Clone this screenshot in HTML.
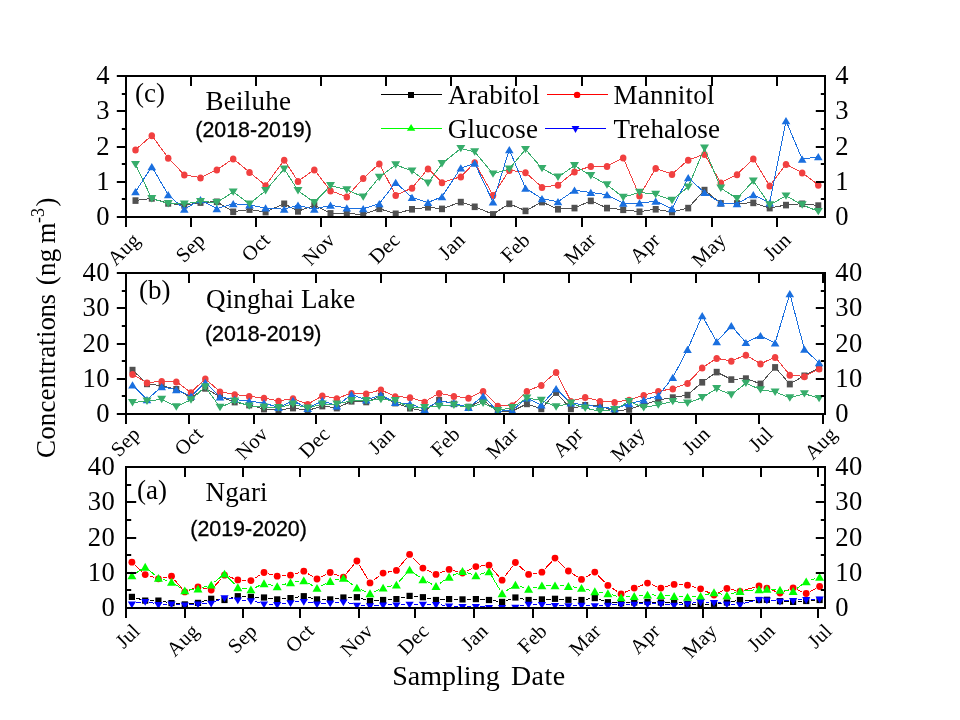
<!DOCTYPE html>
<html lang="en">
<head>
<meta charset="utf-8">
<title>Concentrations of sugar compounds by sampling date</title>
<style>
html,body{margin:0;padding:0;background:#fff;}
body{width:960px;height:720px;overflow:hidden;}
svg{display:block;}
text{fill:#000;}
</style>
</head>
<body>
<svg width="960" height="720" viewBox="0 0 960 720" role="img" aria-label="Concentrations of arabitol, mannitol, glucose and trehalose by sampling date at Beiluhe, Qinghai Lake and Ngari">
<rect width="960" height="720" fill="#fff"/>
<defs>
<clipPath id="clip-c"><rect x="125" y="75" width="701" height="143"/></clipPath>
<clipPath id="clip-b"><rect x="125" y="272" width="701" height="143"/></clipPath>
<clipPath id="clip-a"><rect x="125" y="466" width="701" height="143"/></clipPath>
</defs>
<g id="panel-c-data" clip-path="url(#clip-c)">
<polyline points="135.50,200.50 151.80,198.30 168.20,203.30 184.30,205.30 200.50,202.50 216.80,201.70 233.20,211.70 249.50,209.50 265.60,212.00 284.20,203.70 298.00,211.30 314.30,205.30 330.50,213.30 346.80,213.70 363.20,214.30 379.30,208.70 395.70,213.70 412.00,209.20 428.00,207.20 442.00,208.80 460.80,202.00 474.70,206.70 493.00,214.30 509.30,203.70 525.50,210.80 542.00,202.00 558.00,209.20 574.50,208.00 590.80,200.80 607.00,208.00 623.20,209.70 639.50,211.70 655.70,209.20 672.00,212.00 688.20,208.00 704.50,190.00 720.80,203.30 737.00,203.30 753.30,202.80 769.70,208.00 786.00,205.00 802.20,203.70 818.30,205.50" fill="none" stroke="#515151" stroke-width="1.0" stroke-linejoin="round" shape-rendering="crispEdges"/>
<rect x="132.50" y="197.30" width="6.0" height="6.6" fill="#515151"/>
<rect x="148.80" y="195.10" width="6.0" height="6.6" fill="#515151"/>
<rect x="165.20" y="200.10" width="6.0" height="6.6" fill="#515151"/>
<rect x="181.30" y="202.10" width="6.0" height="6.6" fill="#515151"/>
<rect x="197.50" y="199.30" width="6.0" height="6.6" fill="#515151"/>
<rect x="213.80" y="198.50" width="6.0" height="6.6" fill="#515151"/>
<rect x="230.20" y="208.50" width="6.0" height="6.6" fill="#515151"/>
<rect x="246.50" y="206.30" width="6.0" height="6.6" fill="#515151"/>
<rect x="262.60" y="208.80" width="6.0" height="6.6" fill="#515151"/>
<rect x="281.20" y="200.50" width="6.0" height="6.6" fill="#515151"/>
<rect x="295.00" y="208.10" width="6.0" height="6.6" fill="#515151"/>
<rect x="311.30" y="202.10" width="6.0" height="6.6" fill="#515151"/>
<rect x="327.50" y="210.10" width="6.0" height="6.6" fill="#515151"/>
<rect x="343.80" y="210.50" width="6.0" height="6.6" fill="#515151"/>
<rect x="360.20" y="211.10" width="6.0" height="6.6" fill="#515151"/>
<rect x="376.30" y="205.50" width="6.0" height="6.6" fill="#515151"/>
<rect x="392.70" y="210.50" width="6.0" height="6.6" fill="#515151"/>
<rect x="409.00" y="206.00" width="6.0" height="6.6" fill="#515151"/>
<rect x="425.00" y="204.00" width="6.0" height="6.6" fill="#515151"/>
<rect x="439.00" y="205.60" width="6.0" height="6.6" fill="#515151"/>
<rect x="457.80" y="198.80" width="6.0" height="6.6" fill="#515151"/>
<rect x="471.70" y="203.50" width="6.0" height="6.6" fill="#515151"/>
<rect x="490.00" y="211.10" width="6.0" height="6.6" fill="#515151"/>
<rect x="506.30" y="200.50" width="6.0" height="6.6" fill="#515151"/>
<rect x="522.50" y="207.60" width="6.0" height="6.6" fill="#515151"/>
<rect x="539.00" y="198.80" width="6.0" height="6.6" fill="#515151"/>
<rect x="555.00" y="206.00" width="6.0" height="6.6" fill="#515151"/>
<rect x="571.50" y="204.80" width="6.0" height="6.6" fill="#515151"/>
<rect x="587.80" y="197.60" width="6.0" height="6.6" fill="#515151"/>
<rect x="604.00" y="204.80" width="6.0" height="6.6" fill="#515151"/>
<rect x="620.20" y="206.50" width="6.0" height="6.6" fill="#515151"/>
<rect x="636.50" y="208.50" width="6.0" height="6.6" fill="#515151"/>
<rect x="652.70" y="206.00" width="6.0" height="6.6" fill="#515151"/>
<rect x="669.00" y="208.80" width="6.0" height="6.6" fill="#515151"/>
<rect x="685.20" y="204.80" width="6.0" height="6.6" fill="#515151"/>
<rect x="701.50" y="186.80" width="6.0" height="6.6" fill="#515151"/>
<rect x="717.80" y="200.10" width="6.0" height="6.6" fill="#515151"/>
<rect x="734.00" y="200.10" width="6.0" height="6.6" fill="#515151"/>
<rect x="750.30" y="199.60" width="6.0" height="6.6" fill="#515151"/>
<rect x="766.70" y="204.80" width="6.0" height="6.6" fill="#515151"/>
<rect x="783.00" y="201.80" width="6.0" height="6.6" fill="#515151"/>
<rect x="799.20" y="200.50" width="6.0" height="6.6" fill="#515151"/>
<rect x="815.30" y="202.30" width="6.0" height="6.6" fill="#515151"/>
<polyline points="135.50,149.70 151.80,135.50 168.20,158.00 184.30,174.80 200.50,177.70 216.80,169.80 233.20,158.70 249.50,172.20 265.60,185.50 284.20,160.00 298.00,181.30 314.30,169.70 330.50,190.80 346.80,196.70 363.20,178.30 379.30,163.80 395.70,195.30 412.00,188.00 428.00,168.70 442.00,182.50 460.80,176.70 474.70,162.50 493.00,195.30 509.30,170.30 525.50,172.50 542.00,187.20 558.00,185.00 574.50,171.70 590.80,166.20 607.00,166.20 623.20,157.80 639.50,195.80 655.70,168.30 672.00,174.20 688.20,160.00 704.50,154.20 720.80,182.80 737.00,174.50 753.30,158.80 769.70,185.80 786.00,164.20 802.20,172.80 818.30,185.00" fill="none" stroke="#F14040" stroke-width="1.0" stroke-linejoin="round" shape-rendering="crispEdges"/>
<ellipse cx="135.50" cy="150.00" rx="3.25" ry="3.5" fill="#F14040"/>
<ellipse cx="151.80" cy="135.80" rx="3.25" ry="3.5" fill="#F14040"/>
<ellipse cx="168.20" cy="158.30" rx="3.25" ry="3.5" fill="#F14040"/>
<ellipse cx="184.30" cy="175.10" rx="3.25" ry="3.5" fill="#F14040"/>
<ellipse cx="200.50" cy="178.00" rx="3.25" ry="3.5" fill="#F14040"/>
<ellipse cx="216.80" cy="170.10" rx="3.25" ry="3.5" fill="#F14040"/>
<ellipse cx="233.20" cy="159.00" rx="3.25" ry="3.5" fill="#F14040"/>
<ellipse cx="249.50" cy="172.50" rx="3.25" ry="3.5" fill="#F14040"/>
<ellipse cx="265.60" cy="185.80" rx="3.25" ry="3.5" fill="#F14040"/>
<ellipse cx="284.20" cy="160.30" rx="3.25" ry="3.5" fill="#F14040"/>
<ellipse cx="298.00" cy="181.60" rx="3.25" ry="3.5" fill="#F14040"/>
<ellipse cx="314.30" cy="170.00" rx="3.25" ry="3.5" fill="#F14040"/>
<ellipse cx="330.50" cy="191.10" rx="3.25" ry="3.5" fill="#F14040"/>
<ellipse cx="346.80" cy="197.00" rx="3.25" ry="3.5" fill="#F14040"/>
<ellipse cx="363.20" cy="178.60" rx="3.25" ry="3.5" fill="#F14040"/>
<ellipse cx="379.30" cy="164.10" rx="3.25" ry="3.5" fill="#F14040"/>
<ellipse cx="395.70" cy="195.60" rx="3.25" ry="3.5" fill="#F14040"/>
<ellipse cx="412.00" cy="188.30" rx="3.25" ry="3.5" fill="#F14040"/>
<ellipse cx="428.00" cy="169.00" rx="3.25" ry="3.5" fill="#F14040"/>
<ellipse cx="442.00" cy="182.80" rx="3.25" ry="3.5" fill="#F14040"/>
<ellipse cx="460.80" cy="177.00" rx="3.25" ry="3.5" fill="#F14040"/>
<ellipse cx="474.70" cy="162.80" rx="3.25" ry="3.5" fill="#F14040"/>
<ellipse cx="493.00" cy="195.60" rx="3.25" ry="3.5" fill="#F14040"/>
<ellipse cx="509.30" cy="170.60" rx="3.25" ry="3.5" fill="#F14040"/>
<ellipse cx="525.50" cy="172.80" rx="3.25" ry="3.5" fill="#F14040"/>
<ellipse cx="542.00" cy="187.50" rx="3.25" ry="3.5" fill="#F14040"/>
<ellipse cx="558.00" cy="185.30" rx="3.25" ry="3.5" fill="#F14040"/>
<ellipse cx="574.50" cy="172.00" rx="3.25" ry="3.5" fill="#F14040"/>
<ellipse cx="590.80" cy="166.50" rx="3.25" ry="3.5" fill="#F14040"/>
<ellipse cx="607.00" cy="166.50" rx="3.25" ry="3.5" fill="#F14040"/>
<ellipse cx="623.20" cy="158.10" rx="3.25" ry="3.5" fill="#F14040"/>
<ellipse cx="639.50" cy="196.10" rx="3.25" ry="3.5" fill="#F14040"/>
<ellipse cx="655.70" cy="168.60" rx="3.25" ry="3.5" fill="#F14040"/>
<ellipse cx="672.00" cy="174.50" rx="3.25" ry="3.5" fill="#F14040"/>
<ellipse cx="688.20" cy="160.30" rx="3.25" ry="3.5" fill="#F14040"/>
<ellipse cx="704.50" cy="154.50" rx="3.25" ry="3.5" fill="#F14040"/>
<ellipse cx="720.80" cy="183.10" rx="3.25" ry="3.5" fill="#F14040"/>
<ellipse cx="737.00" cy="174.80" rx="3.25" ry="3.5" fill="#F14040"/>
<ellipse cx="753.30" cy="159.10" rx="3.25" ry="3.5" fill="#F14040"/>
<ellipse cx="769.70" cy="186.10" rx="3.25" ry="3.5" fill="#F14040"/>
<ellipse cx="786.00" cy="164.50" rx="3.25" ry="3.5" fill="#F14040"/>
<ellipse cx="802.20" cy="173.10" rx="3.25" ry="3.5" fill="#F14040"/>
<ellipse cx="818.30" cy="185.30" rx="3.25" ry="3.5" fill="#F14040"/>
<polyline points="135.50,191.70 151.80,166.70 168.20,194.70 184.30,209.20 200.50,199.70 216.80,208.70 233.20,203.70 249.50,205.00 265.60,208.00 284.20,209.20 298.00,205.30 314.30,209.20 330.50,205.30 346.80,208.00 363.20,208.70 379.30,203.70 395.70,182.50 412.00,197.50 428.00,202.50 442.00,196.70 460.80,168.00 474.70,163.30 493.00,202.00 509.30,149.70 525.50,188.30 542.00,198.70 558.00,201.70 574.50,190.30 590.80,192.50 607.00,194.70 623.20,203.30 639.50,203.00 655.70,201.30 672.00,208.70 688.20,177.80 704.50,192.50 720.80,203.00 737.00,203.70 753.30,194.70 769.70,203.00 786.00,120.80 802.20,159.20 818.30,156.70" fill="none" stroke="#1A6FDF" stroke-width="1.0" stroke-linejoin="round" shape-rendering="crispEdges"/>
<polygon points="135.50,188.00 139.80,195.20 131.20,195.20" fill="#1A6FDF"/>
<polygon points="151.80,163.00 156.10,170.20 147.50,170.20" fill="#1A6FDF"/>
<polygon points="168.20,191.00 172.50,198.20 163.90,198.20" fill="#1A6FDF"/>
<polygon points="184.30,205.50 188.60,212.70 180.00,212.70" fill="#1A6FDF"/>
<polygon points="200.50,196.00 204.80,203.20 196.20,203.20" fill="#1A6FDF"/>
<polygon points="216.80,205.00 221.10,212.20 212.50,212.20" fill="#1A6FDF"/>
<polygon points="233.20,200.00 237.50,207.20 228.90,207.20" fill="#1A6FDF"/>
<polygon points="249.50,201.30 253.80,208.50 245.20,208.50" fill="#1A6FDF"/>
<polygon points="265.60,204.30 269.90,211.50 261.30,211.50" fill="#1A6FDF"/>
<polygon points="284.20,205.50 288.50,212.70 279.90,212.70" fill="#1A6FDF"/>
<polygon points="298.00,201.60 302.30,208.80 293.70,208.80" fill="#1A6FDF"/>
<polygon points="314.30,205.50 318.60,212.70 310.00,212.70" fill="#1A6FDF"/>
<polygon points="330.50,201.60 334.80,208.80 326.20,208.80" fill="#1A6FDF"/>
<polygon points="346.80,204.30 351.10,211.50 342.50,211.50" fill="#1A6FDF"/>
<polygon points="363.20,205.00 367.50,212.20 358.90,212.20" fill="#1A6FDF"/>
<polygon points="379.30,200.00 383.60,207.20 375.00,207.20" fill="#1A6FDF"/>
<polygon points="395.70,178.80 400.00,186.00 391.40,186.00" fill="#1A6FDF"/>
<polygon points="412.00,193.80 416.30,201.00 407.70,201.00" fill="#1A6FDF"/>
<polygon points="428.00,198.80 432.30,206.00 423.70,206.00" fill="#1A6FDF"/>
<polygon points="442.00,193.00 446.30,200.20 437.70,200.20" fill="#1A6FDF"/>
<polygon points="460.80,164.30 465.10,171.50 456.50,171.50" fill="#1A6FDF"/>
<polygon points="474.70,159.60 479.00,166.80 470.40,166.80" fill="#1A6FDF"/>
<polygon points="493.00,198.30 497.30,205.50 488.70,205.50" fill="#1A6FDF"/>
<polygon points="509.30,146.00 513.60,153.20 505.00,153.20" fill="#1A6FDF"/>
<polygon points="525.50,184.60 529.80,191.80 521.20,191.80" fill="#1A6FDF"/>
<polygon points="542.00,195.00 546.30,202.20 537.70,202.20" fill="#1A6FDF"/>
<polygon points="558.00,198.00 562.30,205.20 553.70,205.20" fill="#1A6FDF"/>
<polygon points="574.50,186.60 578.80,193.80 570.20,193.80" fill="#1A6FDF"/>
<polygon points="590.80,188.80 595.10,196.00 586.50,196.00" fill="#1A6FDF"/>
<polygon points="607.00,191.00 611.30,198.20 602.70,198.20" fill="#1A6FDF"/>
<polygon points="623.20,199.60 627.50,206.80 618.90,206.80" fill="#1A6FDF"/>
<polygon points="639.50,199.30 643.80,206.50 635.20,206.50" fill="#1A6FDF"/>
<polygon points="655.70,197.60 660.00,204.80 651.40,204.80" fill="#1A6FDF"/>
<polygon points="672.00,205.00 676.30,212.20 667.70,212.20" fill="#1A6FDF"/>
<polygon points="688.20,174.10 692.50,181.30 683.90,181.30" fill="#1A6FDF"/>
<polygon points="704.50,188.80 708.80,196.00 700.20,196.00" fill="#1A6FDF"/>
<polygon points="720.80,199.30 725.10,206.50 716.50,206.50" fill="#1A6FDF"/>
<polygon points="737.00,200.00 741.30,207.20 732.70,207.20" fill="#1A6FDF"/>
<polygon points="753.30,191.00 757.60,198.20 749.00,198.20" fill="#1A6FDF"/>
<polygon points="769.70,199.30 774.00,206.50 765.40,206.50" fill="#1A6FDF"/>
<polygon points="786.00,117.10 790.30,124.30 781.70,124.30" fill="#1A6FDF"/>
<polygon points="802.20,155.50 806.50,162.70 797.90,162.70" fill="#1A6FDF"/>
<polygon points="818.30,153.00 822.60,160.20 814.00,160.20" fill="#1A6FDF"/>
<polyline points="135.50,164.40 151.80,198.60 168.20,203.60 184.30,203.90 200.50,201.40 216.80,202.60 233.20,191.90 249.50,203.90 265.60,190.60 284.20,168.90 298.00,190.60 314.30,202.60 330.50,185.60 346.80,189.80 363.20,196.90 379.30,177.30 395.70,164.80 412.00,170.90 428.00,183.10 442.00,163.60 460.80,148.40 474.70,151.80 493.00,173.90 509.30,168.90 525.50,149.40 542.00,168.40 558.00,177.10 574.50,165.60 590.80,175.60 607.00,184.80 623.20,197.30 639.50,192.30 655.70,194.30 672.00,200.30 688.20,186.90 704.50,148.10 720.80,188.10 737.00,198.60 753.30,180.90 769.70,204.80 786.00,195.90 802.20,204.80 818.30,211.40" fill="none" stroke="#37AD6B" stroke-width="1.0" stroke-linejoin="round" shape-rendering="crispEdges"/>
<polygon points="135.50,168.30 140.00,160.90 131.00,160.90" fill="#37AD6B"/>
<polygon points="151.80,202.50 156.30,195.10 147.30,195.10" fill="#37AD6B"/>
<polygon points="168.20,207.50 172.70,200.10 163.70,200.10" fill="#37AD6B"/>
<polygon points="184.30,207.80 188.80,200.40 179.80,200.40" fill="#37AD6B"/>
<polygon points="200.50,205.30 205.00,197.90 196.00,197.90" fill="#37AD6B"/>
<polygon points="216.80,206.50 221.30,199.10 212.30,199.10" fill="#37AD6B"/>
<polygon points="233.20,195.80 237.70,188.40 228.70,188.40" fill="#37AD6B"/>
<polygon points="249.50,207.80 254.00,200.40 245.00,200.40" fill="#37AD6B"/>
<polygon points="265.60,194.50 270.10,187.10 261.10,187.10" fill="#37AD6B"/>
<polygon points="284.20,172.80 288.70,165.40 279.70,165.40" fill="#37AD6B"/>
<polygon points="298.00,194.50 302.50,187.10 293.50,187.10" fill="#37AD6B"/>
<polygon points="314.30,206.50 318.80,199.10 309.80,199.10" fill="#37AD6B"/>
<polygon points="330.50,189.50 335.00,182.10 326.00,182.10" fill="#37AD6B"/>
<polygon points="346.80,193.70 351.30,186.30 342.30,186.30" fill="#37AD6B"/>
<polygon points="363.20,200.80 367.70,193.40 358.70,193.40" fill="#37AD6B"/>
<polygon points="379.30,181.20 383.80,173.80 374.80,173.80" fill="#37AD6B"/>
<polygon points="395.70,168.70 400.20,161.30 391.20,161.30" fill="#37AD6B"/>
<polygon points="412.00,174.80 416.50,167.40 407.50,167.40" fill="#37AD6B"/>
<polygon points="428.00,187.00 432.50,179.60 423.50,179.60" fill="#37AD6B"/>
<polygon points="442.00,167.50 446.50,160.10 437.50,160.10" fill="#37AD6B"/>
<polygon points="460.80,152.30 465.30,144.90 456.30,144.90" fill="#37AD6B"/>
<polygon points="474.70,155.70 479.20,148.30 470.20,148.30" fill="#37AD6B"/>
<polygon points="493.00,177.80 497.50,170.40 488.50,170.40" fill="#37AD6B"/>
<polygon points="509.30,172.80 513.80,165.40 504.80,165.40" fill="#37AD6B"/>
<polygon points="525.50,153.30 530.00,145.90 521.00,145.90" fill="#37AD6B"/>
<polygon points="542.00,172.30 546.50,164.90 537.50,164.90" fill="#37AD6B"/>
<polygon points="558.00,181.00 562.50,173.60 553.50,173.60" fill="#37AD6B"/>
<polygon points="574.50,169.50 579.00,162.10 570.00,162.10" fill="#37AD6B"/>
<polygon points="590.80,179.50 595.30,172.10 586.30,172.10" fill="#37AD6B"/>
<polygon points="607.00,188.70 611.50,181.30 602.50,181.30" fill="#37AD6B"/>
<polygon points="623.20,201.20 627.70,193.80 618.70,193.80" fill="#37AD6B"/>
<polygon points="639.50,196.20 644.00,188.80 635.00,188.80" fill="#37AD6B"/>
<polygon points="655.70,198.20 660.20,190.80 651.20,190.80" fill="#37AD6B"/>
<polygon points="672.00,204.20 676.50,196.80 667.50,196.80" fill="#37AD6B"/>
<polygon points="688.20,190.80 692.70,183.40 683.70,183.40" fill="#37AD6B"/>
<polygon points="704.50,152.00 709.00,144.60 700.00,144.60" fill="#37AD6B"/>
<polygon points="720.80,192.00 725.30,184.60 716.30,184.60" fill="#37AD6B"/>
<polygon points="737.00,202.50 741.50,195.10 732.50,195.10" fill="#37AD6B"/>
<polygon points="753.30,184.80 757.80,177.40 748.80,177.40" fill="#37AD6B"/>
<polygon points="769.70,208.70 774.20,201.30 765.20,201.30" fill="#37AD6B"/>
<polygon points="786.00,199.80 790.50,192.40 781.50,192.40" fill="#37AD6B"/>
<polygon points="802.20,208.70 806.70,201.30 797.70,201.30" fill="#37AD6B"/>
<polygon points="818.30,215.30 822.80,207.90 813.80,207.90" fill="#37AD6B"/>
</g>
<g id="panel-b-data" clip-path="url(#clip-b)">
<polyline points="132.50,370.00 147.00,383.80 161.70,385.80 176.30,389.20 191.00,397.50 205.30,388.30 220.00,396.70 234.70,402.00 249.20,405.00 264.00,409.00 278.50,410.00 293.00,408.00 307.70,410.50 322.30,406.00 336.80,408.00 351.50,401.20 366.20,401.90 380.90,396.20 395.20,403.00 410.00,408.10 424.60,411.20 439.10,400.20 453.90,403.80 468.50,406.90 483.10,400.00 497.80,411.90 512.20,411.20 526.90,403.80 541.30,408.80 556.10,392.50 570.90,408.80 585.20,405.20 600.00,406.00 614.60,411.20 629.10,409.40 643.70,404.60 658.30,400.00 672.80,397.50 687.50,395.00 702.20,382.20 716.70,372.00 731.30,379.50 745.90,378.50 760.50,383.80 775.10,367.30 789.80,384.00 804.40,375.70 819.10,368.00" fill="none" stroke="#515151" stroke-width="1.0" stroke-linejoin="round" shape-rendering="crispEdges"/>
<rect x="129.50" y="366.80" width="6.0" height="6.6" fill="#515151"/>
<rect x="144.00" y="380.60" width="6.0" height="6.6" fill="#515151"/>
<rect x="158.70" y="382.60" width="6.0" height="6.6" fill="#515151"/>
<rect x="173.30" y="386.00" width="6.0" height="6.6" fill="#515151"/>
<rect x="188.00" y="394.30" width="6.0" height="6.6" fill="#515151"/>
<rect x="202.30" y="385.10" width="6.0" height="6.6" fill="#515151"/>
<rect x="217.00" y="393.50" width="6.0" height="6.6" fill="#515151"/>
<rect x="231.70" y="398.80" width="6.0" height="6.6" fill="#515151"/>
<rect x="246.20" y="401.80" width="6.0" height="6.6" fill="#515151"/>
<rect x="261.00" y="405.80" width="6.0" height="6.6" fill="#515151"/>
<rect x="275.50" y="406.80" width="6.0" height="6.6" fill="#515151"/>
<rect x="290.00" y="404.80" width="6.0" height="6.6" fill="#515151"/>
<rect x="304.70" y="407.30" width="6.0" height="6.6" fill="#515151"/>
<rect x="319.30" y="402.80" width="6.0" height="6.6" fill="#515151"/>
<rect x="333.80" y="404.80" width="6.0" height="6.6" fill="#515151"/>
<rect x="348.50" y="398.00" width="6.0" height="6.6" fill="#515151"/>
<rect x="363.20" y="398.70" width="6.0" height="6.6" fill="#515151"/>
<rect x="377.90" y="393.00" width="6.0" height="6.6" fill="#515151"/>
<rect x="392.20" y="399.80" width="6.0" height="6.6" fill="#515151"/>
<rect x="407.00" y="404.90" width="6.0" height="6.6" fill="#515151"/>
<rect x="421.60" y="408.00" width="6.0" height="6.6" fill="#515151"/>
<rect x="436.10" y="397.00" width="6.0" height="6.6" fill="#515151"/>
<rect x="450.90" y="400.60" width="6.0" height="6.6" fill="#515151"/>
<rect x="465.50" y="403.70" width="6.0" height="6.6" fill="#515151"/>
<rect x="480.10" y="396.80" width="6.0" height="6.6" fill="#515151"/>
<rect x="494.80" y="408.70" width="6.0" height="6.6" fill="#515151"/>
<rect x="509.20" y="408.00" width="6.0" height="6.6" fill="#515151"/>
<rect x="523.90" y="400.60" width="6.0" height="6.6" fill="#515151"/>
<rect x="538.30" y="405.60" width="6.0" height="6.6" fill="#515151"/>
<rect x="553.10" y="389.30" width="6.0" height="6.6" fill="#515151"/>
<rect x="567.90" y="405.60" width="6.0" height="6.6" fill="#515151"/>
<rect x="582.20" y="402.00" width="6.0" height="6.6" fill="#515151"/>
<rect x="597.00" y="402.80" width="6.0" height="6.6" fill="#515151"/>
<rect x="611.60" y="408.00" width="6.0" height="6.6" fill="#515151"/>
<rect x="626.10" y="406.20" width="6.0" height="6.6" fill="#515151"/>
<rect x="640.70" y="401.40" width="6.0" height="6.6" fill="#515151"/>
<rect x="655.30" y="396.80" width="6.0" height="6.6" fill="#515151"/>
<rect x="669.80" y="394.30" width="6.0" height="6.6" fill="#515151"/>
<rect x="684.50" y="391.80" width="6.0" height="6.6" fill="#515151"/>
<rect x="699.20" y="379.00" width="6.0" height="6.6" fill="#515151"/>
<rect x="713.70" y="368.80" width="6.0" height="6.6" fill="#515151"/>
<rect x="728.30" y="376.30" width="6.0" height="6.6" fill="#515151"/>
<rect x="742.90" y="375.30" width="6.0" height="6.6" fill="#515151"/>
<rect x="757.50" y="380.60" width="6.0" height="6.6" fill="#515151"/>
<rect x="772.10" y="364.10" width="6.0" height="6.6" fill="#515151"/>
<rect x="786.80" y="380.80" width="6.0" height="6.6" fill="#515151"/>
<rect x="801.40" y="372.50" width="6.0" height="6.6" fill="#515151"/>
<rect x="816.10" y="364.80" width="6.0" height="6.6" fill="#515151"/>
<polyline points="132.50,374.20 147.00,382.80 161.70,381.20 176.30,381.70 191.00,392.50 205.30,378.70 220.00,391.70 234.70,394.50 249.20,396.30 264.00,398.00 278.50,401.00 293.00,398.50 307.70,404.30 322.30,395.80 336.80,398.50 351.50,393.10 366.20,393.80 380.90,389.80 395.20,396.50 410.00,397.50 424.60,401.90 439.10,393.10 453.90,396.30 468.50,397.90 483.10,391.20 497.80,406.00 512.20,405.40 526.90,391.20 541.30,385.10 556.10,372.20 570.90,401.20 585.20,397.20 600.00,401.20 614.60,402.10 629.10,400.00 643.70,395.20 658.30,391.30 672.80,388.70 687.50,383.30 702.20,367.80 716.70,358.30 731.30,361.00 745.90,355.00 760.50,363.80 775.10,357.10 789.80,375.00 804.40,376.50 819.10,368.80" fill="none" stroke="#F14040" stroke-width="1.0" stroke-linejoin="round" shape-rendering="crispEdges"/>
<ellipse cx="132.50" cy="374.50" rx="3.25" ry="3.5" fill="#F14040"/>
<ellipse cx="147.00" cy="383.10" rx="3.25" ry="3.5" fill="#F14040"/>
<ellipse cx="161.70" cy="381.50" rx="3.25" ry="3.5" fill="#F14040"/>
<ellipse cx="176.30" cy="382.00" rx="3.25" ry="3.5" fill="#F14040"/>
<ellipse cx="191.00" cy="392.80" rx="3.25" ry="3.5" fill="#F14040"/>
<ellipse cx="205.30" cy="379.00" rx="3.25" ry="3.5" fill="#F14040"/>
<ellipse cx="220.00" cy="392.00" rx="3.25" ry="3.5" fill="#F14040"/>
<ellipse cx="234.70" cy="394.80" rx="3.25" ry="3.5" fill="#F14040"/>
<ellipse cx="249.20" cy="396.60" rx="3.25" ry="3.5" fill="#F14040"/>
<ellipse cx="264.00" cy="398.30" rx="3.25" ry="3.5" fill="#F14040"/>
<ellipse cx="278.50" cy="401.30" rx="3.25" ry="3.5" fill="#F14040"/>
<ellipse cx="293.00" cy="398.80" rx="3.25" ry="3.5" fill="#F14040"/>
<ellipse cx="307.70" cy="404.60" rx="3.25" ry="3.5" fill="#F14040"/>
<ellipse cx="322.30" cy="396.10" rx="3.25" ry="3.5" fill="#F14040"/>
<ellipse cx="336.80" cy="398.80" rx="3.25" ry="3.5" fill="#F14040"/>
<ellipse cx="351.50" cy="393.40" rx="3.25" ry="3.5" fill="#F14040"/>
<ellipse cx="366.20" cy="394.10" rx="3.25" ry="3.5" fill="#F14040"/>
<ellipse cx="380.90" cy="390.10" rx="3.25" ry="3.5" fill="#F14040"/>
<ellipse cx="395.20" cy="396.80" rx="3.25" ry="3.5" fill="#F14040"/>
<ellipse cx="410.00" cy="397.80" rx="3.25" ry="3.5" fill="#F14040"/>
<ellipse cx="424.60" cy="402.20" rx="3.25" ry="3.5" fill="#F14040"/>
<ellipse cx="439.10" cy="393.40" rx="3.25" ry="3.5" fill="#F14040"/>
<ellipse cx="453.90" cy="396.60" rx="3.25" ry="3.5" fill="#F14040"/>
<ellipse cx="468.50" cy="398.20" rx="3.25" ry="3.5" fill="#F14040"/>
<ellipse cx="483.10" cy="391.50" rx="3.25" ry="3.5" fill="#F14040"/>
<ellipse cx="497.80" cy="406.30" rx="3.25" ry="3.5" fill="#F14040"/>
<ellipse cx="512.20" cy="405.70" rx="3.25" ry="3.5" fill="#F14040"/>
<ellipse cx="526.90" cy="391.50" rx="3.25" ry="3.5" fill="#F14040"/>
<ellipse cx="541.30" cy="385.40" rx="3.25" ry="3.5" fill="#F14040"/>
<ellipse cx="556.10" cy="372.50" rx="3.25" ry="3.5" fill="#F14040"/>
<ellipse cx="570.90" cy="401.50" rx="3.25" ry="3.5" fill="#F14040"/>
<ellipse cx="585.20" cy="397.50" rx="3.25" ry="3.5" fill="#F14040"/>
<ellipse cx="600.00" cy="401.50" rx="3.25" ry="3.5" fill="#F14040"/>
<ellipse cx="614.60" cy="402.40" rx="3.25" ry="3.5" fill="#F14040"/>
<ellipse cx="629.10" cy="400.30" rx="3.25" ry="3.5" fill="#F14040"/>
<ellipse cx="643.70" cy="395.50" rx="3.25" ry="3.5" fill="#F14040"/>
<ellipse cx="658.30" cy="391.60" rx="3.25" ry="3.5" fill="#F14040"/>
<ellipse cx="672.80" cy="389.00" rx="3.25" ry="3.5" fill="#F14040"/>
<ellipse cx="687.50" cy="383.60" rx="3.25" ry="3.5" fill="#F14040"/>
<ellipse cx="702.20" cy="368.10" rx="3.25" ry="3.5" fill="#F14040"/>
<ellipse cx="716.70" cy="358.60" rx="3.25" ry="3.5" fill="#F14040"/>
<ellipse cx="731.30" cy="361.30" rx="3.25" ry="3.5" fill="#F14040"/>
<ellipse cx="745.90" cy="355.30" rx="3.25" ry="3.5" fill="#F14040"/>
<ellipse cx="760.50" cy="364.10" rx="3.25" ry="3.5" fill="#F14040"/>
<ellipse cx="775.10" cy="357.40" rx="3.25" ry="3.5" fill="#F14040"/>
<ellipse cx="789.80" cy="375.30" rx="3.25" ry="3.5" fill="#F14040"/>
<ellipse cx="804.40" cy="376.80" rx="3.25" ry="3.5" fill="#F14040"/>
<ellipse cx="819.10" cy="369.10" rx="3.25" ry="3.5" fill="#F14040"/>
<polyline points="132.50,385.00 147.00,399.70 161.70,386.70 176.30,389.70 191.00,396.20 205.30,382.50 220.00,397.00 234.70,399.50 249.20,401.20 264.00,403.00 278.50,407.50 293.00,400.50 307.70,408.50 322.30,400.50 336.80,406.00 351.50,394.40 366.20,400.00 380.90,395.00 395.20,402.50 410.00,403.80 424.60,409.40 439.10,401.20 453.90,403.00 468.50,407.50 483.10,396.20 497.80,411.20 512.20,410.60 526.90,398.10 541.30,405.00 556.10,388.80 570.90,403.10 585.20,405.00 600.00,406.90 614.60,408.80 629.10,403.80 643.70,400.00 658.30,395.70 672.80,377.50 687.50,349.50 702.20,315.80 716.70,341.70 731.30,325.80 745.90,342.60 760.50,335.60 775.10,343.00 789.80,293.70 804.40,349.30 819.10,362.80" fill="none" stroke="#1A6FDF" stroke-width="1.0" stroke-linejoin="round" shape-rendering="crispEdges"/>
<polygon points="132.50,381.30 136.80,388.50 128.20,388.50" fill="#1A6FDF"/>
<polygon points="147.00,396.00 151.30,403.20 142.70,403.20" fill="#1A6FDF"/>
<polygon points="161.70,383.00 166.00,390.20 157.40,390.20" fill="#1A6FDF"/>
<polygon points="176.30,386.00 180.60,393.20 172.00,393.20" fill="#1A6FDF"/>
<polygon points="191.00,392.50 195.30,399.70 186.70,399.70" fill="#1A6FDF"/>
<polygon points="205.30,378.80 209.60,386.00 201.00,386.00" fill="#1A6FDF"/>
<polygon points="220.00,393.30 224.30,400.50 215.70,400.50" fill="#1A6FDF"/>
<polygon points="234.70,395.80 239.00,403.00 230.40,403.00" fill="#1A6FDF"/>
<polygon points="249.20,397.50 253.50,404.70 244.90,404.70" fill="#1A6FDF"/>
<polygon points="264.00,399.30 268.30,406.50 259.70,406.50" fill="#1A6FDF"/>
<polygon points="278.50,403.80 282.80,411.00 274.20,411.00" fill="#1A6FDF"/>
<polygon points="293.00,396.80 297.30,404.00 288.70,404.00" fill="#1A6FDF"/>
<polygon points="307.70,404.80 312.00,412.00 303.40,412.00" fill="#1A6FDF"/>
<polygon points="322.30,396.80 326.60,404.00 318.00,404.00" fill="#1A6FDF"/>
<polygon points="336.80,402.30 341.10,409.50 332.50,409.50" fill="#1A6FDF"/>
<polygon points="351.50,390.70 355.80,397.90 347.20,397.90" fill="#1A6FDF"/>
<polygon points="366.20,396.30 370.50,403.50 361.90,403.50" fill="#1A6FDF"/>
<polygon points="380.90,391.30 385.20,398.50 376.60,398.50" fill="#1A6FDF"/>
<polygon points="395.20,398.80 399.50,406.00 390.90,406.00" fill="#1A6FDF"/>
<polygon points="410.00,400.10 414.30,407.30 405.70,407.30" fill="#1A6FDF"/>
<polygon points="424.60,405.70 428.90,412.90 420.30,412.90" fill="#1A6FDF"/>
<polygon points="439.10,397.50 443.40,404.70 434.80,404.70" fill="#1A6FDF"/>
<polygon points="453.90,399.30 458.20,406.50 449.60,406.50" fill="#1A6FDF"/>
<polygon points="468.50,403.80 472.80,411.00 464.20,411.00" fill="#1A6FDF"/>
<polygon points="483.10,392.50 487.40,399.70 478.80,399.70" fill="#1A6FDF"/>
<polygon points="497.80,407.50 502.10,414.70 493.50,414.70" fill="#1A6FDF"/>
<polygon points="512.20,406.90 516.50,414.10 507.90,414.10" fill="#1A6FDF"/>
<polygon points="526.90,394.40 531.20,401.60 522.60,401.60" fill="#1A6FDF"/>
<polygon points="541.30,401.30 545.60,408.50 537.00,408.50" fill="#1A6FDF"/>
<polygon points="556.10,385.10 560.40,392.30 551.80,392.30" fill="#1A6FDF"/>
<polygon points="570.90,399.40 575.20,406.60 566.60,406.60" fill="#1A6FDF"/>
<polygon points="585.20,401.30 589.50,408.50 580.90,408.50" fill="#1A6FDF"/>
<polygon points="600.00,403.20 604.30,410.40 595.70,410.40" fill="#1A6FDF"/>
<polygon points="614.60,405.10 618.90,412.30 610.30,412.30" fill="#1A6FDF"/>
<polygon points="629.10,400.10 633.40,407.30 624.80,407.30" fill="#1A6FDF"/>
<polygon points="643.70,396.30 648.00,403.50 639.40,403.50" fill="#1A6FDF"/>
<polygon points="658.30,392.00 662.60,399.20 654.00,399.20" fill="#1A6FDF"/>
<polygon points="672.80,373.80 677.10,381.00 668.50,381.00" fill="#1A6FDF"/>
<polygon points="687.50,345.80 691.80,353.00 683.20,353.00" fill="#1A6FDF"/>
<polygon points="702.20,312.10 706.50,319.30 697.90,319.30" fill="#1A6FDF"/>
<polygon points="716.70,338.00 721.00,345.20 712.40,345.20" fill="#1A6FDF"/>
<polygon points="731.30,322.10 735.60,329.30 727.00,329.30" fill="#1A6FDF"/>
<polygon points="745.90,338.90 750.20,346.10 741.60,346.10" fill="#1A6FDF"/>
<polygon points="760.50,331.90 764.80,339.10 756.20,339.10" fill="#1A6FDF"/>
<polygon points="775.10,339.30 779.40,346.50 770.80,346.50" fill="#1A6FDF"/>
<polygon points="789.80,290.00 794.10,297.20 785.50,297.20" fill="#1A6FDF"/>
<polygon points="804.40,345.60 808.70,352.80 800.10,352.80" fill="#1A6FDF"/>
<polygon points="819.10,359.10 823.40,366.30 814.80,366.30" fill="#1A6FDF"/>
<polyline points="132.50,402.60 147.00,401.10 161.70,399.30 176.30,406.80 191.00,399.80 205.30,386.80 220.00,407.30 234.70,401.10 249.20,405.90 264.00,407.10 278.50,407.60 293.00,404.10 307.70,408.10 322.30,404.10 336.80,404.10 351.50,400.60 366.20,400.60 380.90,399.40 395.20,400.60 410.00,407.50 424.60,407.50 439.10,406.20 453.90,405.00 468.50,407.50 483.10,403.10 497.80,410.60 512.20,407.50 526.90,398.10 541.30,400.30 556.10,406.80 570.90,403.10 585.20,408.10 600.00,411.20 614.60,409.40 629.10,401.50 643.70,407.60 658.30,404.90 672.80,401.40 687.50,403.10 702.20,397.60 716.70,388.60 731.30,394.80 745.90,383.20 760.50,389.70 775.10,392.00 789.80,397.80 804.40,393.70 819.10,398.40" fill="none" stroke="#37AD6B" stroke-width="1.0" stroke-linejoin="round" shape-rendering="crispEdges"/>
<polygon points="132.50,406.50 137.00,399.10 128.00,399.10" fill="#37AD6B"/>
<polygon points="147.00,405.00 151.50,397.60 142.50,397.60" fill="#37AD6B"/>
<polygon points="161.70,403.20 166.20,395.80 157.20,395.80" fill="#37AD6B"/>
<polygon points="176.30,410.70 180.80,403.30 171.80,403.30" fill="#37AD6B"/>
<polygon points="191.00,403.70 195.50,396.30 186.50,396.30" fill="#37AD6B"/>
<polygon points="205.30,390.70 209.80,383.30 200.80,383.30" fill="#37AD6B"/>
<polygon points="220.00,411.20 224.50,403.80 215.50,403.80" fill="#37AD6B"/>
<polygon points="234.70,405.00 239.20,397.60 230.20,397.60" fill="#37AD6B"/>
<polygon points="249.20,409.80 253.70,402.40 244.70,402.40" fill="#37AD6B"/>
<polygon points="264.00,411.00 268.50,403.60 259.50,403.60" fill="#37AD6B"/>
<polygon points="278.50,411.50 283.00,404.10 274.00,404.10" fill="#37AD6B"/>
<polygon points="293.00,408.00 297.50,400.60 288.50,400.60" fill="#37AD6B"/>
<polygon points="307.70,412.00 312.20,404.60 303.20,404.60" fill="#37AD6B"/>
<polygon points="322.30,408.00 326.80,400.60 317.80,400.60" fill="#37AD6B"/>
<polygon points="336.80,408.00 341.30,400.60 332.30,400.60" fill="#37AD6B"/>
<polygon points="351.50,404.50 356.00,397.10 347.00,397.10" fill="#37AD6B"/>
<polygon points="366.20,404.50 370.70,397.10 361.70,397.10" fill="#37AD6B"/>
<polygon points="380.90,403.30 385.40,395.90 376.40,395.90" fill="#37AD6B"/>
<polygon points="395.20,404.50 399.70,397.10 390.70,397.10" fill="#37AD6B"/>
<polygon points="410.00,411.40 414.50,404.00 405.50,404.00" fill="#37AD6B"/>
<polygon points="424.60,411.40 429.10,404.00 420.10,404.00" fill="#37AD6B"/>
<polygon points="439.10,410.10 443.60,402.70 434.60,402.70" fill="#37AD6B"/>
<polygon points="453.90,408.90 458.40,401.50 449.40,401.50" fill="#37AD6B"/>
<polygon points="468.50,411.40 473.00,404.00 464.00,404.00" fill="#37AD6B"/>
<polygon points="483.10,407.00 487.60,399.60 478.60,399.60" fill="#37AD6B"/>
<polygon points="497.80,414.50 502.30,407.10 493.30,407.10" fill="#37AD6B"/>
<polygon points="512.20,411.40 516.70,404.00 507.70,404.00" fill="#37AD6B"/>
<polygon points="526.90,402.00 531.40,394.60 522.40,394.60" fill="#37AD6B"/>
<polygon points="541.30,404.20 545.80,396.80 536.80,396.80" fill="#37AD6B"/>
<polygon points="556.10,410.70 560.60,403.30 551.60,403.30" fill="#37AD6B"/>
<polygon points="570.90,407.00 575.40,399.60 566.40,399.60" fill="#37AD6B"/>
<polygon points="585.20,412.00 589.70,404.60 580.70,404.60" fill="#37AD6B"/>
<polygon points="600.00,415.10 604.50,407.70 595.50,407.70" fill="#37AD6B"/>
<polygon points="614.60,413.30 619.10,405.90 610.10,405.90" fill="#37AD6B"/>
<polygon points="629.10,405.40 633.60,398.00 624.60,398.00" fill="#37AD6B"/>
<polygon points="643.70,411.50 648.20,404.10 639.20,404.10" fill="#37AD6B"/>
<polygon points="658.30,408.80 662.80,401.40 653.80,401.40" fill="#37AD6B"/>
<polygon points="672.80,405.30 677.30,397.90 668.30,397.90" fill="#37AD6B"/>
<polygon points="687.50,407.00 692.00,399.60 683.00,399.60" fill="#37AD6B"/>
<polygon points="702.20,401.50 706.70,394.10 697.70,394.10" fill="#37AD6B"/>
<polygon points="716.70,392.50 721.20,385.10 712.20,385.10" fill="#37AD6B"/>
<polygon points="731.30,398.70 735.80,391.30 726.80,391.30" fill="#37AD6B"/>
<polygon points="745.90,387.10 750.40,379.70 741.40,379.70" fill="#37AD6B"/>
<polygon points="760.50,393.60 765.00,386.20 756.00,386.20" fill="#37AD6B"/>
<polygon points="775.10,395.90 779.60,388.50 770.60,388.50" fill="#37AD6B"/>
<polygon points="789.80,401.70 794.30,394.30 785.30,394.30" fill="#37AD6B"/>
<polygon points="804.40,397.60 808.90,390.20 799.90,390.20" fill="#37AD6B"/>
<polygon points="819.10,402.30 823.60,394.90 814.60,394.90" fill="#37AD6B"/>
</g>
<g id="panel-a-data" clip-path="url(#clip-a)">
<line x1="136.24" y1="598.11" x2="140.86" y2="599.39" stroke="#000000" stroke-width="1.0" shape-rendering="crispEdges"/>
<line x1="149.70" y1="600.60" x2="153.90" y2="600.60" stroke="#000000" stroke-width="1.0" shape-rendering="crispEdges"/>
<line x1="162.82" y1="601.44" x2="167.08" y2="602.26" stroke="#000000" stroke-width="1.0" shape-rendering="crispEdges"/>
<line x1="175.98" y1="603.54" x2="180.32" y2="603.96" stroke="#000000" stroke-width="1.0" shape-rendering="crispEdges"/>
<line x1="189.27" y1="603.89" x2="193.53" y2="603.41" stroke="#000000" stroke-width="1.0" shape-rendering="crispEdges"/>
<line x1="202.30" y1="601.57" x2="206.90" y2="600.13" stroke="#000000" stroke-width="1.0" shape-rendering="crispEdges"/>
<line x1="215.68" y1="599.20" x2="220.02" y2="599.60" stroke="#000000" stroke-width="1.0" shape-rendering="crispEdges"/>
<line x1="228.83" y1="598.76" x2="233.47" y2="597.44" stroke="#000000" stroke-width="1.0" shape-rendering="crispEdges"/>
<line x1="242.29" y1="596.44" x2="246.41" y2="596.66" stroke="#000000" stroke-width="1.0" shape-rendering="crispEdges"/>
<line x1="255.40" y1="597.11" x2="259.50" y2="597.29" stroke="#000000" stroke-width="1.0" shape-rendering="crispEdges"/>
<line x1="268.45" y1="598.14" x2="272.75" y2="598.76" stroke="#000000" stroke-width="1.0" shape-rendering="crispEdges"/>
<line x1="281.68" y1="598.96" x2="286.02" y2="598.54" stroke="#000000" stroke-width="1.0" shape-rendering="crispEdges"/>
<line x1="294.95" y1="597.46" x2="299.35" y2="596.84" stroke="#000000" stroke-width="1.0" shape-rendering="crispEdges"/>
<line x1="308.17" y1="597.26" x2="312.63" y2="598.34" stroke="#000000" stroke-width="1.0" shape-rendering="crispEdges"/>
<line x1="321.50" y1="599.40" x2="325.70" y2="599.40" stroke="#000000" stroke-width="1.0" shape-rendering="crispEdges"/>
<line x1="334.65" y1="598.76" x2="338.95" y2="598.14" stroke="#000000" stroke-width="1.0" shape-rendering="crispEdges"/>
<line x1="347.90" y1="597.40" x2="352.40" y2="597.30" stroke="#000000" stroke-width="1.0" shape-rendering="crispEdges"/>
<line x1="361.22" y1="598.45" x2="365.68" y2="599.75" stroke="#000000" stroke-width="1.0" shape-rendering="crispEdges"/>
<line x1="374.49" y1="600.66" x2="378.61" y2="600.34" stroke="#000000" stroke-width="1.0" shape-rendering="crispEdges"/>
<line x1="387.59" y1="599.70" x2="391.91" y2="599.40" stroke="#000000" stroke-width="1.0" shape-rendering="crispEdges"/>
<line x1="400.77" y1="598.04" x2="405.23" y2="596.96" stroke="#000000" stroke-width="1.0" shape-rendering="crispEdges"/>
<line x1="414.08" y1="596.34" x2="418.42" y2="596.76" stroke="#000000" stroke-width="1.0" shape-rendering="crispEdges"/>
<line x1="427.30" y1="598.14" x2="431.60" y2="599.06" stroke="#000000" stroke-width="1.0" shape-rendering="crispEdges"/>
<line x1="440.49" y1="599.69" x2="444.61" y2="599.41" stroke="#000000" stroke-width="1.0" shape-rendering="crispEdges"/>
<line x1="453.60" y1="599.20" x2="458.00" y2="599.30" stroke="#000000" stroke-width="1.0" shape-rendering="crispEdges"/>
<line x1="467.00" y1="599.30" x2="471.40" y2="599.20" stroke="#000000" stroke-width="1.0" shape-rendering="crispEdges"/>
<line x1="480.39" y1="599.41" x2="484.51" y2="599.69" stroke="#000000" stroke-width="1.0" shape-rendering="crispEdges"/>
<line x1="493.45" y1="600.65" x2="497.65" y2="601.25" stroke="#000000" stroke-width="1.0" shape-rendering="crispEdges"/>
<line x1="506.37" y1="600.49" x2="511.13" y2="598.91" stroke="#000000" stroke-width="1.0" shape-rendering="crispEdges"/>
<line x1="519.82" y1="598.34" x2="524.18" y2="599.16" stroke="#000000" stroke-width="1.0" shape-rendering="crispEdges"/>
<line x1="533.10" y1="599.80" x2="537.40" y2="599.60" stroke="#000000" stroke-width="1.0" shape-rendering="crispEdges"/>
<line x1="546.40" y1="599.19" x2="550.50" y2="599.01" stroke="#000000" stroke-width="1.0" shape-rendering="crispEdges"/>
<line x1="559.49" y1="599.13" x2="563.91" y2="599.47" stroke="#000000" stroke-width="1.0" shape-rendering="crispEdges"/>
<line x1="572.90" y1="599.87" x2="577.00" y2="599.93" stroke="#000000" stroke-width="1.0" shape-rendering="crispEdges"/>
<line x1="585.95" y1="599.36" x2="590.35" y2="598.74" stroke="#000000" stroke-width="1.0" shape-rendering="crispEdges"/>
<line x1="599.09" y1="599.44" x2="603.61" y2="600.86" stroke="#000000" stroke-width="1.0" shape-rendering="crispEdges"/>
<line x1="612.39" y1="602.51" x2="616.61" y2="602.79" stroke="#000000" stroke-width="1.0" shape-rendering="crispEdges"/>
<line x1="625.60" y1="602.89" x2="629.70" y2="602.71" stroke="#000000" stroke-width="1.0" shape-rendering="crispEdges"/>
<line x1="638.70" y1="602.30" x2="643.00" y2="602.10" stroke="#000000" stroke-width="1.0" shape-rendering="crispEdges"/>
<line x1="652.00" y1="602.10" x2="656.40" y2="602.30" stroke="#000000" stroke-width="1.0" shape-rendering="crispEdges"/>
<line x1="665.40" y1="602.30" x2="669.60" y2="602.10" stroke="#000000" stroke-width="1.0" shape-rendering="crispEdges"/>
<line x1="678.56" y1="602.53" x2="683.04" y2="603.17" stroke="#000000" stroke-width="1.0" shape-rendering="crispEdges"/>
<line x1="692.00" y1="604.01" x2="696.10" y2="604.19" stroke="#000000" stroke-width="1.0" shape-rendering="crispEdges"/>
<line x1="705.10" y1="604.20" x2="709.50" y2="604.00" stroke="#000000" stroke-width="1.0" shape-rendering="crispEdges"/>
<line x1="718.48" y1="603.35" x2="722.42" y2="602.95" stroke="#000000" stroke-width="1.0" shape-rendering="crispEdges"/>
<line x1="731.32" y1="601.66" x2="735.58" y2="600.84" stroke="#000000" stroke-width="1.0" shape-rendering="crispEdges"/>
<line x1="744.50" y1="600.00" x2="754.50" y2="600.00" stroke="#000000" stroke-width="1.0" shape-rendering="crispEdges"/>
<line x1="771.37" y1="600.28" x2="775.53" y2="600.72" stroke="#000000" stroke-width="1.0" shape-rendering="crispEdges"/>
<line x1="784.49" y1="601.44" x2="788.61" y2="601.66" stroke="#000000" stroke-width="1.0" shape-rendering="crispEdges"/>
<line x1="797.59" y1="601.59" x2="801.71" y2="601.31" stroke="#000000" stroke-width="1.0" shape-rendering="crispEdges"/>
<line x1="810.69" y1="600.67" x2="815.11" y2="600.33" stroke="#000000" stroke-width="1.0" shape-rendering="crispEdges"/>
<rect x="128.80" y="593.80" width="6.2" height="6.2" fill="#000000"/>
<rect x="142.10" y="597.50" width="6.2" height="6.2" fill="#000000"/>
<rect x="155.30" y="597.50" width="6.2" height="6.2" fill="#000000"/>
<rect x="168.40" y="600.00" width="6.2" height="6.2" fill="#000000"/>
<rect x="181.70" y="601.30" width="6.2" height="6.2" fill="#000000"/>
<rect x="194.90" y="599.80" width="6.2" height="6.2" fill="#000000"/>
<rect x="208.10" y="595.70" width="6.2" height="6.2" fill="#000000"/>
<rect x="221.40" y="596.90" width="6.2" height="6.2" fill="#000000"/>
<rect x="234.70" y="593.10" width="6.2" height="6.2" fill="#000000"/>
<rect x="247.80" y="593.80" width="6.2" height="6.2" fill="#000000"/>
<rect x="260.90" y="594.40" width="6.2" height="6.2" fill="#000000"/>
<rect x="274.10" y="596.30" width="6.2" height="6.2" fill="#000000"/>
<rect x="287.40" y="595.00" width="6.2" height="6.2" fill="#000000"/>
<rect x="300.70" y="593.10" width="6.2" height="6.2" fill="#000000"/>
<rect x="313.90" y="596.30" width="6.2" height="6.2" fill="#000000"/>
<rect x="327.10" y="596.30" width="6.2" height="6.2" fill="#000000"/>
<rect x="340.30" y="594.40" width="6.2" height="6.2" fill="#000000"/>
<rect x="353.80" y="594.10" width="6.2" height="6.2" fill="#000000"/>
<rect x="366.90" y="597.90" width="6.2" height="6.2" fill="#000000"/>
<rect x="380.00" y="596.90" width="6.2" height="6.2" fill="#000000"/>
<rect x="393.30" y="596.00" width="6.2" height="6.2" fill="#000000"/>
<rect x="406.50" y="592.80" width="6.2" height="6.2" fill="#000000"/>
<rect x="419.80" y="594.10" width="6.2" height="6.2" fill="#000000"/>
<rect x="432.90" y="596.90" width="6.2" height="6.2" fill="#000000"/>
<rect x="446.00" y="596.00" width="6.2" height="6.2" fill="#000000"/>
<rect x="459.40" y="596.30" width="6.2" height="6.2" fill="#000000"/>
<rect x="472.80" y="596.00" width="6.2" height="6.2" fill="#000000"/>
<rect x="485.90" y="596.90" width="6.2" height="6.2" fill="#000000"/>
<rect x="499.00" y="598.80" width="6.2" height="6.2" fill="#000000"/>
<rect x="512.30" y="594.40" width="6.2" height="6.2" fill="#000000"/>
<rect x="525.50" y="596.90" width="6.2" height="6.2" fill="#000000"/>
<rect x="538.80" y="596.30" width="6.2" height="6.2" fill="#000000"/>
<rect x="551.90" y="595.70" width="6.2" height="6.2" fill="#000000"/>
<rect x="565.30" y="596.70" width="6.2" height="6.2" fill="#000000"/>
<rect x="578.40" y="596.90" width="6.2" height="6.2" fill="#000000"/>
<rect x="591.70" y="595.00" width="6.2" height="6.2" fill="#000000"/>
<rect x="604.80" y="599.10" width="6.2" height="6.2" fill="#000000"/>
<rect x="618.00" y="600.00" width="6.2" height="6.2" fill="#000000"/>
<rect x="631.10" y="599.40" width="6.2" height="6.2" fill="#000000"/>
<rect x="644.40" y="598.80" width="6.2" height="6.2" fill="#000000"/>
<rect x="657.80" y="599.40" width="6.2" height="6.2" fill="#000000"/>
<rect x="671.00" y="598.80" width="6.2" height="6.2" fill="#000000"/>
<rect x="684.40" y="600.70" width="6.2" height="6.2" fill="#000000"/>
<rect x="697.50" y="601.30" width="6.2" height="6.2" fill="#000000"/>
<rect x="710.90" y="600.70" width="6.2" height="6.2" fill="#000000"/>
<rect x="723.80" y="599.40" width="6.2" height="6.2" fill="#000000"/>
<rect x="736.90" y="596.90" width="6.2" height="6.2" fill="#000000"/>
<rect x="755.90" y="596.90" width="6.2" height="6.2" fill="#000000"/>
<rect x="763.80" y="596.70" width="6.2" height="6.2" fill="#000000"/>
<rect x="776.90" y="598.10" width="6.2" height="6.2" fill="#000000"/>
<rect x="790.00" y="598.80" width="6.2" height="6.2" fill="#000000"/>
<rect x="803.10" y="597.90" width="6.2" height="6.2" fill="#000000"/>
<rect x="816.50" y="596.90" width="6.2" height="6.2" fill="#000000"/>
<line x1="135.19" y1="565.27" x2="141.91" y2="571.53" stroke="#FF0000" stroke-width="1.0" shape-rendering="crispEdges"/>
<line x1="149.49" y1="575.96" x2="154.11" y2="577.44" stroke="#FF0000" stroke-width="1.0" shape-rendering="crispEdges"/>
<line x1="162.81" y1="577.92" x2="167.09" y2="577.08" stroke="#FF0000" stroke-width="1.0" shape-rendering="crispEdges"/>
<line x1="174.41" y1="579.63" x2="181.89" y2="588.47" stroke="#FF0000" stroke-width="1.0" shape-rendering="crispEdges"/>
<line x1="189.01" y1="590.31" x2="193.79" y2="588.49" stroke="#FF0000" stroke-width="1.0" shape-rendering="crispEdges"/>
<line x1="202.38" y1="587.93" x2="206.82" y2="588.97" stroke="#FF0000" stroke-width="1.0" shape-rendering="crispEdges"/>
<line x1="214.21" y1="586.65" x2="221.49" y2="578.55" stroke="#FF0000" stroke-width="1.0" shape-rendering="crispEdges"/>
<line x1="228.74" y1="576.70" x2="233.56" y2="578.40" stroke="#FF0000" stroke-width="1.0" shape-rendering="crispEdges"/>
<line x1="242.29" y1="580.14" x2="246.41" y2="580.36" stroke="#FF0000" stroke-width="1.0" shape-rendering="crispEdges"/>
<line x1="254.73" y1="578.23" x2="260.17" y2="574.87" stroke="#FF0000" stroke-width="1.0" shape-rendering="crispEdges"/>
<line x1="268.33" y1="573.71" x2="272.87" y2="574.99" stroke="#FF0000" stroke-width="1.0" shape-rendering="crispEdges"/>
<line x1="281.69" y1="575.86" x2="286.01" y2="575.54" stroke="#FF0000" stroke-width="1.0" shape-rendering="crispEdges"/>
<line x1="294.81" y1="573.90" x2="299.49" y2="572.50" stroke="#FF0000" stroke-width="1.0" shape-rendering="crispEdges"/>
<line x1="307.67" y1="573.49" x2="313.13" y2="576.71" stroke="#FF0000" stroke-width="1.0" shape-rendering="crispEdges"/>
<line x1="321.04" y1="577.01" x2="326.16" y2="574.49" stroke="#FF0000" stroke-width="1.0" shape-rendering="crispEdges"/>
<line x1="334.44" y1="574.01" x2="339.16" y2="575.69" stroke="#FF0000" stroke-width="1.0" shape-rendering="crispEdges"/>
<line x1="346.28" y1="573.74" x2="354.02" y2="564.46" stroke="#FF0000" stroke-width="1.0" shape-rendering="crispEdges"/>
<line x1="359.21" y1="564.86" x2="367.69" y2="579.04" stroke="#FF0000" stroke-width="1.0" shape-rendering="crispEdges"/>
<line x1="373.60" y1="580.20" x2="379.50" y2="575.80" stroke="#FF0000" stroke-width="1.0" shape-rendering="crispEdges"/>
<line x1="387.51" y1="572.20" x2="391.99" y2="571.30" stroke="#FF0000" stroke-width="1.0" shape-rendering="crispEdges"/>
<line x1="399.26" y1="566.93" x2="406.74" y2="557.87" stroke="#FF0000" stroke-width="1.0" shape-rendering="crispEdges"/>
<line x1="412.73" y1="557.63" x2="419.77" y2="564.87" stroke="#FF0000" stroke-width="1.0" shape-rendering="crispEdges"/>
<line x1="426.96" y1="570.05" x2="431.94" y2="572.45" stroke="#FF0000" stroke-width="1.0" shape-rendering="crispEdges"/>
<line x1="440.20" y1="572.80" x2="444.90" y2="571.00" stroke="#FF0000" stroke-width="1.0" shape-rendering="crispEdges"/>
<line x1="453.44" y1="570.60" x2="458.16" y2="571.90" stroke="#FF0000" stroke-width="1.0" shape-rendering="crispEdges"/>
<line x1="466.55" y1="571.14" x2="471.85" y2="568.56" stroke="#FF0000" stroke-width="1.0" shape-rendering="crispEdges"/>
<line x1="480.37" y1="566.12" x2="484.53" y2="565.68" stroke="#FF0000" stroke-width="1.0" shape-rendering="crispEdges"/>
<line x1="491.96" y1="568.59" x2="499.14" y2="576.81" stroke="#FF0000" stroke-width="1.0" shape-rendering="crispEdges"/>
<line x1="504.80" y1="576.60" x2="512.70" y2="566.10" stroke="#FF0000" stroke-width="1.0" shape-rendering="crispEdges"/>
<line x1="518.74" y1="565.51" x2="525.26" y2="571.39" stroke="#FF0000" stroke-width="1.0" shape-rendering="crispEdges"/>
<line x1="533.04" y1="573.67" x2="537.46" y2="572.93" stroke="#FF0000" stroke-width="1.0" shape-rendering="crispEdges"/>
<line x1="544.96" y1="568.90" x2="551.94" y2="561.40" stroke="#FF0000" stroke-width="1.0" shape-rendering="crispEdges"/>
<line x1="558.24" y1="561.22" x2="565.16" y2="567.88" stroke="#FF0000" stroke-width="1.0" shape-rendering="crispEdges"/>
<line x1="572.19" y1="573.43" x2="577.71" y2="576.97" stroke="#FF0000" stroke-width="1.0" shape-rendering="crispEdges"/>
<line x1="585.44" y1="577.23" x2="590.86" y2="574.27" stroke="#FF0000" stroke-width="1.0" shape-rendering="crispEdges"/>
<line x1="597.96" y1="575.31" x2="604.74" y2="582.19" stroke="#FF0000" stroke-width="1.0" shape-rendering="crispEdges"/>
<line x1="611.67" y1="587.86" x2="617.33" y2="591.54" stroke="#FF0000" stroke-width="1.0" shape-rendering="crispEdges"/>
<line x1="625.20" y1="592.15" x2="630.10" y2="589.95" stroke="#FF0000" stroke-width="1.0" shape-rendering="crispEdges"/>
<line x1="638.41" y1="586.52" x2="643.29" y2="584.68" stroke="#FF0000" stroke-width="1.0" shape-rendering="crispEdges"/>
<line x1="651.72" y1="584.67" x2="656.68" y2="586.53" stroke="#FF0000" stroke-width="1.0" shape-rendering="crispEdges"/>
<line x1="665.23" y1="586.89" x2="669.77" y2="585.61" stroke="#FF0000" stroke-width="1.0" shape-rendering="crispEdges"/>
<line x1="678.59" y1="584.67" x2="683.01" y2="584.93" stroke="#FF0000" stroke-width="1.0" shape-rendering="crispEdges"/>
<line x1="691.84" y1="586.39" x2="696.26" y2="587.61" stroke="#FF0000" stroke-width="1.0" shape-rendering="crispEdges"/>
<line x1="704.68" y1="590.69" x2="709.92" y2="593.11" stroke="#FF0000" stroke-width="1.0" shape-rendering="crispEdges"/>
<line x1="718.02" y1="592.98" x2="722.88" y2="590.52" stroke="#FF0000" stroke-width="1.0" shape-rendering="crispEdges"/>
<line x1="731.30" y1="589.44" x2="735.60" y2="590.36" stroke="#FF0000" stroke-width="1.0" shape-rendering="crispEdges"/>
<line x1="744.33" y1="590.09" x2="754.67" y2="587.21" stroke="#FF0000" stroke-width="1.0" shape-rendering="crispEdges"/>
<line x1="771.10" y1="589.70" x2="775.80" y2="591.50" stroke="#FF0000" stroke-width="1.0" shape-rendering="crispEdges"/>
<line x1="784.18" y1="591.44" x2="788.92" y2="589.56" stroke="#FF0000" stroke-width="1.0" shape-rendering="crispEdges"/>
<line x1="797.24" y1="589.67" x2="802.06" y2="591.73" stroke="#FF0000" stroke-width="1.0" shape-rendering="crispEdges"/>
<line x1="810.19" y1="591.42" x2="815.61" y2="588.58" stroke="#FF0000" stroke-width="1.0" shape-rendering="crispEdges"/>
<ellipse cx="131.90" cy="562.20" rx="3.4" ry="3.4" fill="#FF0000"/>
<ellipse cx="145.20" cy="574.60" rx="3.4" ry="3.4" fill="#FF0000"/>
<ellipse cx="158.40" cy="578.80" rx="3.4" ry="3.4" fill="#FF0000"/>
<ellipse cx="171.50" cy="576.20" rx="3.4" ry="3.4" fill="#FF0000"/>
<ellipse cx="184.80" cy="591.90" rx="3.4" ry="3.4" fill="#FF0000"/>
<ellipse cx="198.00" cy="586.90" rx="3.4" ry="3.4" fill="#FF0000"/>
<ellipse cx="211.20" cy="590.00" rx="3.4" ry="3.4" fill="#FF0000"/>
<ellipse cx="224.50" cy="575.20" rx="3.4" ry="3.4" fill="#FF0000"/>
<ellipse cx="237.80" cy="579.90" rx="3.4" ry="3.4" fill="#FF0000"/>
<ellipse cx="250.90" cy="580.60" rx="3.4" ry="3.4" fill="#FF0000"/>
<ellipse cx="264.00" cy="572.50" rx="3.4" ry="3.4" fill="#FF0000"/>
<ellipse cx="277.20" cy="576.20" rx="3.4" ry="3.4" fill="#FF0000"/>
<ellipse cx="290.50" cy="575.20" rx="3.4" ry="3.4" fill="#FF0000"/>
<ellipse cx="303.80" cy="571.20" rx="3.4" ry="3.4" fill="#FF0000"/>
<ellipse cx="317.00" cy="579.00" rx="3.4" ry="3.4" fill="#FF0000"/>
<ellipse cx="330.20" cy="572.50" rx="3.4" ry="3.4" fill="#FF0000"/>
<ellipse cx="343.40" cy="577.20" rx="3.4" ry="3.4" fill="#FF0000"/>
<ellipse cx="356.90" cy="561.00" rx="3.4" ry="3.4" fill="#FF0000"/>
<ellipse cx="370.00" cy="582.90" rx="3.4" ry="3.4" fill="#FF0000"/>
<ellipse cx="383.10" cy="573.10" rx="3.4" ry="3.4" fill="#FF0000"/>
<ellipse cx="396.40" cy="570.40" rx="3.4" ry="3.4" fill="#FF0000"/>
<ellipse cx="409.60" cy="554.40" rx="3.4" ry="3.4" fill="#FF0000"/>
<ellipse cx="422.90" cy="568.10" rx="3.4" ry="3.4" fill="#FF0000"/>
<ellipse cx="436.00" cy="574.40" rx="3.4" ry="3.4" fill="#FF0000"/>
<ellipse cx="449.10" cy="569.40" rx="3.4" ry="3.4" fill="#FF0000"/>
<ellipse cx="462.50" cy="573.10" rx="3.4" ry="3.4" fill="#FF0000"/>
<ellipse cx="475.90" cy="566.60" rx="3.4" ry="3.4" fill="#FF0000"/>
<ellipse cx="489.00" cy="565.20" rx="3.4" ry="3.4" fill="#FF0000"/>
<ellipse cx="502.10" cy="580.20" rx="3.4" ry="3.4" fill="#FF0000"/>
<ellipse cx="515.40" cy="562.50" rx="3.4" ry="3.4" fill="#FF0000"/>
<ellipse cx="528.60" cy="574.40" rx="3.4" ry="3.4" fill="#FF0000"/>
<ellipse cx="541.90" cy="572.20" rx="3.4" ry="3.4" fill="#FF0000"/>
<ellipse cx="555.00" cy="558.10" rx="3.4" ry="3.4" fill="#FF0000"/>
<ellipse cx="568.40" cy="571.00" rx="3.4" ry="3.4" fill="#FF0000"/>
<ellipse cx="581.50" cy="579.40" rx="3.4" ry="3.4" fill="#FF0000"/>
<ellipse cx="594.80" cy="572.10" rx="3.4" ry="3.4" fill="#FF0000"/>
<ellipse cx="607.90" cy="585.40" rx="3.4" ry="3.4" fill="#FF0000"/>
<ellipse cx="621.10" cy="594.00" rx="3.4" ry="3.4" fill="#FF0000"/>
<ellipse cx="634.20" cy="588.10" rx="3.4" ry="3.4" fill="#FF0000"/>
<ellipse cx="647.50" cy="583.10" rx="3.4" ry="3.4" fill="#FF0000"/>
<ellipse cx="660.90" cy="588.10" rx="3.4" ry="3.4" fill="#FF0000"/>
<ellipse cx="674.10" cy="584.40" rx="3.4" ry="3.4" fill="#FF0000"/>
<ellipse cx="687.50" cy="585.20" rx="3.4" ry="3.4" fill="#FF0000"/>
<ellipse cx="700.60" cy="588.80" rx="3.4" ry="3.4" fill="#FF0000"/>
<ellipse cx="714.00" cy="595.00" rx="3.4" ry="3.4" fill="#FF0000"/>
<ellipse cx="726.90" cy="588.50" rx="3.4" ry="3.4" fill="#FF0000"/>
<ellipse cx="740.00" cy="591.30" rx="3.4" ry="3.4" fill="#FF0000"/>
<ellipse cx="759.00" cy="586.00" rx="3.4" ry="3.4" fill="#FF0000"/>
<ellipse cx="766.90" cy="588.10" rx="3.4" ry="3.4" fill="#FF0000"/>
<ellipse cx="780.00" cy="593.10" rx="3.4" ry="3.4" fill="#FF0000"/>
<ellipse cx="793.10" cy="587.90" rx="3.4" ry="3.4" fill="#FF0000"/>
<ellipse cx="806.20" cy="593.50" rx="3.4" ry="3.4" fill="#FF0000"/>
<ellipse cx="819.60" cy="586.50" rx="3.4" ry="3.4" fill="#FF0000"/>
<line x1="135.67" y1="573.14" x2="141.43" y2="569.36" stroke="#00FF00" stroke-width="1.0" shape-rendering="crispEdges"/>
<line x1="148.63" y1="569.81" x2="154.97" y2="575.19" stroke="#00FF00" stroke-width="1.0" shape-rendering="crispEdges"/>
<line x1="162.72" y1="579.35" x2="167.18" y2="580.65" stroke="#00FF00" stroke-width="1.0" shape-rendering="crispEdges"/>
<line x1="175.27" y1="584.36" x2="181.03" y2="588.14" stroke="#00FF00" stroke-width="1.0" shape-rendering="crispEdges"/>
<line x1="189.26" y1="589.99" x2="193.54" y2="589.41" stroke="#00FF00" stroke-width="1.0" shape-rendering="crispEdges"/>
<line x1="202.31" y1="587.49" x2="206.89" y2="586.11" stroke="#00FF00" stroke-width="1.0" shape-rendering="crispEdges"/>
<line x1="214.67" y1="581.93" x2="221.03" y2="576.67" stroke="#00FF00" stroke-width="1.0" shape-rendering="crispEdges"/>
<line x1="227.63" y1="577.03" x2="234.67" y2="584.27" stroke="#00FF00" stroke-width="1.0" shape-rendering="crispEdges"/>
<line x1="242.24" y1="588.21" x2="246.46" y2="588.89" stroke="#00FF00" stroke-width="1.0" shape-rendering="crispEdges"/>
<line x1="254.98" y1="587.70" x2="259.92" y2="585.40" stroke="#00FF00" stroke-width="1.0" shape-rendering="crispEdges"/>
<line x1="268.39" y1="584.50" x2="272.81" y2="585.50" stroke="#00FF00" stroke-width="1.0" shape-rendering="crispEdges"/>
<line x1="281.51" y1="585.20" x2="286.19" y2="583.80" stroke="#00FF00" stroke-width="1.0" shape-rendering="crispEdges"/>
<line x1="294.95" y1="581.86" x2="299.35" y2="581.24" stroke="#00FF00" stroke-width="1.0" shape-rendering="crispEdges"/>
<line x1="307.71" y1="582.82" x2="313.09" y2="585.88" stroke="#00FF00" stroke-width="1.0" shape-rendering="crispEdges"/>
<line x1="320.99" y1="586.02" x2="326.21" y2="583.28" stroke="#00FF00" stroke-width="1.0" shape-rendering="crispEdges"/>
<line x1="334.58" y1="580.17" x2="339.02" y2="579.13" stroke="#00FF00" stroke-width="1.0" shape-rendering="crispEdges"/>
<line x1="347.05" y1="580.73" x2="353.25" y2="585.17" stroke="#00FF00" stroke-width="1.0" shape-rendering="crispEdges"/>
<line x1="361.03" y1="589.60" x2="365.87" y2="591.70" stroke="#00FF00" stroke-width="1.0" shape-rendering="crispEdges"/>
<line x1="374.13" y1="591.70" x2="378.97" y2="589.60" stroke="#00FF00" stroke-width="1.0" shape-rendering="crispEdges"/>
<line x1="387.49" y1="586.81" x2="392.01" y2="585.79" stroke="#00FF00" stroke-width="1.0" shape-rendering="crispEdges"/>
<line x1="399.37" y1="581.42" x2="406.63" y2="573.18" stroke="#00FF00" stroke-width="1.0" shape-rendering="crispEdges"/>
<line x1="413.22" y1="572.47" x2="419.28" y2="576.93" stroke="#00FF00" stroke-width="1.0" shape-rendering="crispEdges"/>
<line x1="426.92" y1="581.62" x2="431.98" y2="584.18" stroke="#00FF00" stroke-width="1.0" shape-rendering="crispEdges"/>
<line x1="439.67" y1="583.60" x2="445.43" y2="579.50" stroke="#00FF00" stroke-width="1.0" shape-rendering="crispEdges"/>
<line x1="453.24" y1="575.14" x2="458.36" y2="572.96" stroke="#00FF00" stroke-width="1.0" shape-rendering="crispEdges"/>
<line x1="466.78" y1="572.60" x2="471.62" y2="574.20" stroke="#00FF00" stroke-width="1.0" shape-rendering="crispEdges"/>
<line x1="480.20" y1="574.29" x2="484.70" y2="572.91" stroke="#00FF00" stroke-width="1.0" shape-rendering="crispEdges"/>
<line x1="491.31" y1="575.46" x2="499.79" y2="589.64" stroke="#00FF00" stroke-width="1.0" shape-rendering="crispEdges"/>
<line x1="505.89" y1="591.08" x2="511.61" y2="587.42" stroke="#00FF00" stroke-width="1.0" shape-rendering="crispEdges"/>
<line x1="519.70" y1="586.33" x2="524.30" y2="587.77" stroke="#00FF00" stroke-width="1.0" shape-rendering="crispEdges"/>
<line x1="532.95" y1="587.95" x2="537.55" y2="586.75" stroke="#00FF00" stroke-width="1.0" shape-rendering="crispEdges"/>
<line x1="546.40" y1="585.60" x2="550.50" y2="585.60" stroke="#00FF00" stroke-width="1.0" shape-rendering="crispEdges"/>
<line x1="559.50" y1="585.80" x2="563.90" y2="586.00" stroke="#00FF00" stroke-width="1.0" shape-rendering="crispEdges"/>
<line x1="572.85" y1="586.85" x2="577.05" y2="587.45" stroke="#00FF00" stroke-width="1.0" shape-rendering="crispEdges"/>
<line x1="585.86" y1="589.21" x2="590.44" y2="590.39" stroke="#00FF00" stroke-width="1.0" shape-rendering="crispEdges"/>
<line x1="599.25" y1="592.18" x2="603.45" y2="592.82" stroke="#00FF00" stroke-width="1.0" shape-rendering="crispEdges"/>
<line x1="612.21" y1="594.81" x2="616.79" y2="596.19" stroke="#00FF00" stroke-width="1.0" shape-rendering="crispEdges"/>
<line x1="625.58" y1="597.06" x2="629.72" y2="596.64" stroke="#00FF00" stroke-width="1.0" shape-rendering="crispEdges"/>
<line x1="638.68" y1="595.73" x2="643.02" y2="595.27" stroke="#00FF00" stroke-width="1.0" shape-rendering="crispEdges"/>
<line x1="652.00" y1="594.93" x2="656.40" y2="595.07" stroke="#00FF00" stroke-width="1.0" shape-rendering="crispEdges"/>
<line x1="665.39" y1="595.54" x2="669.61" y2="595.86" stroke="#00FF00" stroke-width="1.0" shape-rendering="crispEdges"/>
<line x1="678.59" y1="596.50" x2="683.01" y2="596.80" stroke="#00FF00" stroke-width="1.0" shape-rendering="crispEdges"/>
<line x1="691.99" y1="596.79" x2="696.11" y2="596.51" stroke="#00FF00" stroke-width="1.0" shape-rendering="crispEdges"/>
<line x1="704.94" y1="595.00" x2="709.66" y2="593.70" stroke="#00FF00" stroke-width="1.0" shape-rendering="crispEdges"/>
<line x1="718.39" y1="593.49" x2="722.51" y2="594.41" stroke="#00FF00" stroke-width="1.0" shape-rendering="crispEdges"/>
<line x1="731.19" y1="594.03" x2="735.71" y2="592.57" stroke="#00FF00" stroke-width="1.0" shape-rendering="crispEdges"/>
<line x1="744.48" y1="590.78" x2="754.52" y2="589.82" stroke="#00FF00" stroke-width="1.0" shape-rendering="crispEdges"/>
<line x1="771.39" y1="589.41" x2="775.51" y2="589.69" stroke="#00FF00" stroke-width="1.0" shape-rendering="crispEdges"/>
<line x1="784.48" y1="590.41" x2="788.62" y2="590.79" stroke="#00FF00" stroke-width="1.0" shape-rendering="crispEdges"/>
<line x1="796.73" y1="588.54" x2="802.57" y2="584.26" stroke="#00FF00" stroke-width="1.0" shape-rendering="crispEdges"/>
<line x1="810.47" y1="580.17" x2="815.33" y2="578.53" stroke="#00FF00" stroke-width="1.0" shape-rendering="crispEdges"/>
<polygon points="131.90,571.45 136.40,579.35 127.40,579.35" fill="#00FF00"/>
<polygon points="145.20,562.75 149.70,570.65 140.70,570.65" fill="#00FF00"/>
<polygon points="158.40,573.95 162.90,581.85 153.90,581.85" fill="#00FF00"/>
<polygon points="171.50,577.75 176.00,585.65 167.00,585.65" fill="#00FF00"/>
<polygon points="184.80,586.45 189.30,594.35 180.30,594.35" fill="#00FF00"/>
<polygon points="198.00,584.65 202.50,592.55 193.50,592.55" fill="#00FF00"/>
<polygon points="211.20,580.65 215.70,588.55 206.70,588.55" fill="#00FF00"/>
<polygon points="224.50,569.65 229.00,577.55 220.00,577.55" fill="#00FF00"/>
<polygon points="237.80,583.35 242.30,591.25 233.30,591.25" fill="#00FF00"/>
<polygon points="250.90,585.45 255.40,593.35 246.40,593.35" fill="#00FF00"/>
<polygon points="264.00,579.35 268.50,587.25 259.50,587.25" fill="#00FF00"/>
<polygon points="277.20,582.35 281.70,590.25 272.70,590.25" fill="#00FF00"/>
<polygon points="290.50,578.35 295.00,586.25 286.00,586.25" fill="#00FF00"/>
<polygon points="303.80,576.45 308.30,584.35 299.30,584.35" fill="#00FF00"/>
<polygon points="317.00,583.95 321.50,591.85 312.50,591.85" fill="#00FF00"/>
<polygon points="330.20,577.05 334.70,584.95 325.70,584.95" fill="#00FF00"/>
<polygon points="343.40,573.95 347.90,581.85 338.90,581.85" fill="#00FF00"/>
<polygon points="356.90,583.65 361.40,591.55 352.40,591.55" fill="#00FF00"/>
<polygon points="370.00,589.35 374.50,597.25 365.50,597.25" fill="#00FF00"/>
<polygon points="383.10,583.65 387.60,591.55 378.60,591.55" fill="#00FF00"/>
<polygon points="396.40,580.65 400.90,588.55 391.90,588.55" fill="#00FF00"/>
<polygon points="409.60,565.65 414.10,573.55 405.10,573.55" fill="#00FF00"/>
<polygon points="422.90,575.45 427.40,583.35 418.40,583.35" fill="#00FF00"/>
<polygon points="436.00,582.05 440.50,589.95 431.50,589.95" fill="#00FF00"/>
<polygon points="449.10,572.75 453.60,580.65 444.60,580.65" fill="#00FF00"/>
<polygon points="462.50,567.05 467.00,574.95 458.00,574.95" fill="#00FF00"/>
<polygon points="475.90,571.45 480.40,579.35 471.40,579.35" fill="#00FF00"/>
<polygon points="489.00,567.45 493.50,575.35 484.50,575.35" fill="#00FF00"/>
<polygon points="502.10,589.35 506.60,597.25 497.60,597.25" fill="#00FF00"/>
<polygon points="515.40,580.85 519.90,588.75 510.90,588.75" fill="#00FF00"/>
<polygon points="528.60,584.95 533.10,592.85 524.10,592.85" fill="#00FF00"/>
<polygon points="541.90,581.45 546.40,589.35 537.40,589.35" fill="#00FF00"/>
<polygon points="555.00,581.45 559.50,589.35 550.50,589.35" fill="#00FF00"/>
<polygon points="568.40,582.05 572.90,589.95 563.90,589.95" fill="#00FF00"/>
<polygon points="581.50,583.95 586.00,591.85 577.00,591.85" fill="#00FF00"/>
<polygon points="594.80,587.35 599.30,595.25 590.30,595.25" fill="#00FF00"/>
<polygon points="607.90,589.35 612.40,597.25 603.40,597.25" fill="#00FF00"/>
<polygon points="621.10,593.35 625.60,601.25 616.60,601.25" fill="#00FF00"/>
<polygon points="634.20,592.05 638.70,599.95 629.70,599.95" fill="#00FF00"/>
<polygon points="647.50,590.65 652.00,598.55 643.00,598.55" fill="#00FF00"/>
<polygon points="660.90,591.05 665.40,598.95 656.40,598.95" fill="#00FF00"/>
<polygon points="674.10,592.05 678.60,599.95 669.60,599.95" fill="#00FF00"/>
<polygon points="687.50,592.95 692.00,600.85 683.00,600.85" fill="#00FF00"/>
<polygon points="700.60,592.05 705.10,599.95 696.10,599.95" fill="#00FF00"/>
<polygon points="714.00,588.35 718.50,596.25 709.50,596.25" fill="#00FF00"/>
<polygon points="726.90,591.25 731.40,599.15 722.40,599.15" fill="#00FF00"/>
<polygon points="740.00,587.05 744.50,594.95 735.50,594.95" fill="#00FF00"/>
<polygon points="759.00,585.25 763.50,593.15 754.50,593.15" fill="#00FF00"/>
<polygon points="766.90,584.95 771.40,592.85 762.40,592.85" fill="#00FF00"/>
<polygon points="780.00,585.85 784.50,593.75 775.50,593.75" fill="#00FF00"/>
<polygon points="793.10,587.05 797.60,594.95 788.60,594.95" fill="#00FF00"/>
<polygon points="806.20,577.45 810.70,585.35 801.70,585.35" fill="#00FF00"/>
<polygon points="819.60,572.95 824.10,580.85 815.10,580.85" fill="#00FF00"/>
<line x1="136.32" y1="602.94" x2="140.78" y2="602.06" stroke="#0000FF" stroke-width="1.0" shape-rendering="crispEdges"/>
<line x1="149.57" y1="602.26" x2="154.03" y2="603.34" stroke="#0000FF" stroke-width="1.0" shape-rendering="crispEdges"/>
<line x1="162.90" y1="604.19" x2="167.00" y2="604.01" stroke="#0000FF" stroke-width="1.0" shape-rendering="crispEdges"/>
<line x1="175.99" y1="604.14" x2="180.31" y2="604.46" stroke="#0000FF" stroke-width="1.0" shape-rendering="crispEdges"/>
<line x1="189.29" y1="604.46" x2="193.51" y2="604.14" stroke="#0000FF" stroke-width="1.0" shape-rendering="crispEdges"/>
<line x1="202.49" y1="603.56" x2="206.71" y2="603.34" stroke="#0000FF" stroke-width="1.0" shape-rendering="crispEdges"/>
<line x1="215.35" y1="601.35" x2="220.35" y2="599.25" stroke="#0000FF" stroke-width="1.0" shape-rendering="crispEdges"/>
<line x1="228.94" y1="598.23" x2="233.36" y2="598.97" stroke="#0000FF" stroke-width="1.0" shape-rendering="crispEdges"/>
<line x1="242.29" y1="600.01" x2="246.41" y2="600.29" stroke="#0000FF" stroke-width="1.0" shape-rendering="crispEdges"/>
<line x1="255.27" y1="601.67" x2="259.63" y2="602.73" stroke="#0000FF" stroke-width="1.0" shape-rendering="crispEdges"/>
<line x1="268.50" y1="604.00" x2="272.70" y2="604.20" stroke="#0000FF" stroke-width="1.0" shape-rendering="crispEdges"/>
<line x1="281.65" y1="603.76" x2="286.05" y2="603.14" stroke="#0000FF" stroke-width="1.0" shape-rendering="crispEdges"/>
<line x1="294.98" y1="602.06" x2="299.32" y2="601.64" stroke="#0000FF" stroke-width="1.0" shape-rendering="crispEdges"/>
<line x1="308.22" y1="602.07" x2="312.58" y2="602.93" stroke="#0000FF" stroke-width="1.0" shape-rendering="crispEdges"/>
<line x1="321.49" y1="603.46" x2="325.71" y2="603.14" stroke="#0000FF" stroke-width="1.0" shape-rendering="crispEdges"/>
<line x1="334.68" y1="602.43" x2="338.92" y2="602.07" stroke="#0000FF" stroke-width="1.0" shape-rendering="crispEdges"/>
<line x1="347.77" y1="602.77" x2="352.53" y2="603.93" stroke="#0000FF" stroke-width="1.0" shape-rendering="crispEdges"/>
<line x1="361.40" y1="605.21" x2="365.50" y2="605.39" stroke="#0000FF" stroke-width="1.0" shape-rendering="crispEdges"/>
<line x1="374.49" y1="605.33" x2="378.61" y2="605.07" stroke="#0000FF" stroke-width="1.0" shape-rendering="crispEdges"/>
<line x1="387.60" y1="604.80" x2="391.90" y2="604.80" stroke="#0000FF" stroke-width="1.0" shape-rendering="crispEdges"/>
<line x1="400.89" y1="604.56" x2="405.11" y2="604.34" stroke="#0000FF" stroke-width="1.0" shape-rendering="crispEdges"/>
<line x1="414.10" y1="604.10" x2="418.40" y2="604.10" stroke="#0000FF" stroke-width="1.0" shape-rendering="crispEdges"/>
<line x1="427.40" y1="604.20" x2="431.50" y2="604.30" stroke="#0000FF" stroke-width="1.0" shape-rendering="crispEdges"/>
<line x1="440.47" y1="604.88" x2="444.63" y2="605.32" stroke="#0000FF" stroke-width="1.0" shape-rendering="crispEdges"/>
<line x1="453.60" y1="605.97" x2="458.00" y2="606.13" stroke="#0000FF" stroke-width="1.0" shape-rendering="crispEdges"/>
<line x1="467.00" y1="606.30" x2="471.40" y2="606.30" stroke="#0000FF" stroke-width="1.0" shape-rendering="crispEdges"/>
<line x1="480.39" y1="606.61" x2="484.51" y2="606.89" stroke="#0000FF" stroke-width="1.0" shape-rendering="crispEdges"/>
<line x1="493.50" y1="607.20" x2="497.60" y2="607.20" stroke="#0000FF" stroke-width="1.0" shape-rendering="crispEdges"/>
<line x1="506.60" y1="607.13" x2="510.90" y2="607.07" stroke="#0000FF" stroke-width="1.0" shape-rendering="crispEdges"/>
<line x1="519.80" y1="606.03" x2="524.20" y2="605.07" stroke="#0000FF" stroke-width="1.0" shape-rendering="crispEdges"/>
<line x1="533.10" y1="604.20" x2="537.40" y2="604.30" stroke="#0000FF" stroke-width="1.0" shape-rendering="crispEdges"/>
<line x1="546.39" y1="604.67" x2="550.51" y2="604.93" stroke="#0000FF" stroke-width="1.0" shape-rendering="crispEdges"/>
<line x1="559.50" y1="605.33" x2="563.90" y2="605.47" stroke="#0000FF" stroke-width="1.0" shape-rendering="crispEdges"/>
<line x1="572.90" y1="605.39" x2="577.00" y2="605.21" stroke="#0000FF" stroke-width="1.0" shape-rendering="crispEdges"/>
<line x1="586.00" y1="605.20" x2="590.30" y2="605.40" stroke="#0000FF" stroke-width="1.0" shape-rendering="crispEdges"/>
<line x1="599.30" y1="605.39" x2="603.40" y2="605.21" stroke="#0000FF" stroke-width="1.0" shape-rendering="crispEdges"/>
<line x1="612.40" y1="604.80" x2="616.60" y2="604.60" stroke="#0000FF" stroke-width="1.0" shape-rendering="crispEdges"/>
<line x1="625.60" y1="604.30" x2="629.70" y2="604.20" stroke="#0000FF" stroke-width="1.0" shape-rendering="crispEdges"/>
<line x1="638.70" y1="604.00" x2="643.00" y2="603.90" stroke="#0000FF" stroke-width="1.0" shape-rendering="crispEdges"/>
<line x1="652.00" y1="603.70" x2="656.40" y2="603.60" stroke="#0000FF" stroke-width="1.0" shape-rendering="crispEdges"/>
<line x1="665.37" y1="604.01" x2="669.63" y2="604.49" stroke="#0000FF" stroke-width="1.0" shape-rendering="crispEdges"/>
<line x1="678.58" y1="604.60" x2="683.02" y2="604.20" stroke="#0000FF" stroke-width="1.0" shape-rendering="crispEdges"/>
<line x1="691.95" y1="603.15" x2="696.15" y2="602.55" stroke="#0000FF" stroke-width="1.0" shape-rendering="crispEdges"/>
<line x1="705.10" y1="602.00" x2="709.50" y2="602.10" stroke="#0000FF" stroke-width="1.0" shape-rendering="crispEdges"/>
<line x1="718.47" y1="602.75" x2="722.43" y2="603.25" stroke="#0000FF" stroke-width="1.0" shape-rendering="crispEdges"/>
<line x1="731.39" y1="604.04" x2="735.51" y2="604.26" stroke="#0000FF" stroke-width="1.0" shape-rendering="crispEdges"/>
<line x1="744.34" y1="603.31" x2="754.66" y2="600.49" stroke="#0000FF" stroke-width="1.0" shape-rendering="crispEdges"/>
<line x1="771.38" y1="600.14" x2="775.52" y2="600.56" stroke="#0000FF" stroke-width="1.0" shape-rendering="crispEdges"/>
<line x1="784.50" y1="600.79" x2="788.60" y2="600.61" stroke="#0000FF" stroke-width="1.0" shape-rendering="crispEdges"/>
<line x1="797.59" y1="600.06" x2="801.71" y2="599.74" stroke="#0000FF" stroke-width="1.0" shape-rendering="crispEdges"/>
<line x1="810.70" y1="599.20" x2="815.10" y2="599.00" stroke="#0000FF" stroke-width="1.0" shape-rendering="crispEdges"/>
<polygon points="131.90,608.30 136.00,601.50 127.80,601.50" fill="#0000FF"/>
<polygon points="145.20,605.70 149.30,598.90 141.10,598.90" fill="#0000FF"/>
<polygon points="158.40,608.90 162.50,602.10 154.30,602.10" fill="#0000FF"/>
<polygon points="171.50,608.30 175.60,601.50 167.40,601.50" fill="#0000FF"/>
<polygon points="184.80,609.30 188.90,602.50 180.70,602.50" fill="#0000FF"/>
<polygon points="198.00,608.30 202.10,601.50 193.90,601.50" fill="#0000FF"/>
<polygon points="211.20,607.60 215.30,600.80 207.10,600.80" fill="#0000FF"/>
<polygon points="224.50,602.00 228.60,595.20 220.40,595.20" fill="#0000FF"/>
<polygon points="237.80,604.20 241.90,597.40 233.70,597.40" fill="#0000FF"/>
<polygon points="250.90,605.10 255.00,598.30 246.80,598.30" fill="#0000FF"/>
<polygon points="264.00,608.30 268.10,601.50 259.90,601.50" fill="#0000FF"/>
<polygon points="277.20,608.90 281.30,602.10 273.10,602.10" fill="#0000FF"/>
<polygon points="290.50,607.00 294.60,600.20 286.40,600.20" fill="#0000FF"/>
<polygon points="303.80,605.70 307.90,598.90 299.70,598.90" fill="#0000FF"/>
<polygon points="317.00,608.30 321.10,601.50 312.90,601.50" fill="#0000FF"/>
<polygon points="330.20,607.30 334.30,600.50 326.10,600.50" fill="#0000FF"/>
<polygon points="343.40,606.20 347.50,599.40 339.30,599.40" fill="#0000FF"/>
<polygon points="356.90,609.50 361.00,602.70 352.80,602.70" fill="#0000FF"/>
<polygon points="370.00,610.10 374.10,603.30 365.90,603.30" fill="#0000FF"/>
<polygon points="383.10,609.30 387.20,602.50 379.00,602.50" fill="#0000FF"/>
<polygon points="396.40,609.30 400.50,602.50 392.30,602.50" fill="#0000FF"/>
<polygon points="409.60,608.60 413.70,601.80 405.50,601.80" fill="#0000FF"/>
<polygon points="422.90,608.60 427.00,601.80 418.80,601.80" fill="#0000FF"/>
<polygon points="436.00,608.90 440.10,602.10 431.90,602.10" fill="#0000FF"/>
<polygon points="449.10,610.30 453.20,603.50 445.00,603.50" fill="#0000FF"/>
<polygon points="462.50,610.80 466.60,604.00 458.40,604.00" fill="#0000FF"/>
<polygon points="475.90,610.80 480.00,604.00 471.80,604.00" fill="#0000FF"/>
<polygon points="489.00,611.70 493.10,604.90 484.90,604.90" fill="#0000FF"/>
<polygon points="502.10,611.70 506.20,604.90 498.00,604.90" fill="#0000FF"/>
<polygon points="515.40,611.50 519.50,604.70 511.30,604.70" fill="#0000FF"/>
<polygon points="528.60,608.60 532.70,601.80 524.50,601.80" fill="#0000FF"/>
<polygon points="541.90,608.90 546.00,602.10 537.80,602.10" fill="#0000FF"/>
<polygon points="555.00,609.70 559.10,602.90 550.90,602.90" fill="#0000FF"/>
<polygon points="568.40,610.10 572.50,603.30 564.30,603.30" fill="#0000FF"/>
<polygon points="581.50,609.50 585.60,602.70 577.40,602.70" fill="#0000FF"/>
<polygon points="594.80,610.10 598.90,603.30 590.70,603.30" fill="#0000FF"/>
<polygon points="607.90,609.50 612.00,602.70 603.80,602.70" fill="#0000FF"/>
<polygon points="621.10,608.90 625.20,602.10 617.00,602.10" fill="#0000FF"/>
<polygon points="634.20,608.60 638.30,601.80 630.10,601.80" fill="#0000FF"/>
<polygon points="647.50,608.30 651.60,601.50 643.40,601.50" fill="#0000FF"/>
<polygon points="660.90,608.00 665.00,601.20 656.80,601.20" fill="#0000FF"/>
<polygon points="674.10,609.50 678.20,602.70 670.00,602.70" fill="#0000FF"/>
<polygon points="687.50,608.30 691.60,601.50 683.40,601.50" fill="#0000FF"/>
<polygon points="700.60,606.40 704.70,599.60 696.50,599.60" fill="#0000FF"/>
<polygon points="714.00,606.70 718.10,599.90 709.90,599.90" fill="#0000FF"/>
<polygon points="726.90,608.30 731.00,601.50 722.80,601.50" fill="#0000FF"/>
<polygon points="740.00,609.00 744.10,602.20 735.90,602.20" fill="#0000FF"/>
<polygon points="759.00,603.80 763.10,597.00 754.90,597.00" fill="#0000FF"/>
<polygon points="766.90,604.20 771.00,597.40 762.80,597.40" fill="#0000FF"/>
<polygon points="780.00,605.50 784.10,598.70 775.90,598.70" fill="#0000FF"/>
<polygon points="793.10,604.90 797.20,598.10 789.00,598.10" fill="#0000FF"/>
<polygon points="806.20,603.90 810.30,597.10 802.10,597.10" fill="#0000FF"/>
<polygon points="819.60,603.30 823.70,596.50 815.50,596.50" fill="#0000FF"/>
</g>
<g id="axes">
<line x1="125.00" y1="76.00" x2="826.00" y2="76.00" stroke="#000" stroke-width="2.0" />
<line x1="125.00" y1="217.00" x2="826.00" y2="217.00" stroke="#000" stroke-width="2.0" />
<line x1="126.00" y1="76.00" x2="126.00" y2="217.00" stroke="#000" stroke-width="2.0" />
<line x1="825.00" y1="76.00" x2="825.00" y2="217.00" stroke="#000" stroke-width="2.0" />
<line x1="116.80" y1="217.00" x2="126.00" y2="217.00" stroke="#000" stroke-width="2.0" />
<line x1="815.80" y1="217.00" x2="825.00" y2="217.00" stroke="#000" stroke-width="2.0" />
<line x1="116.80" y1="182.00" x2="126.00" y2="182.00" stroke="#000" stroke-width="2.0" />
<line x1="815.80" y1="182.00" x2="825.00" y2="182.00" stroke="#000" stroke-width="2.0" />
<line x1="116.80" y1="147.00" x2="126.00" y2="147.00" stroke="#000" stroke-width="2.0" />
<line x1="815.80" y1="147.00" x2="825.00" y2="147.00" stroke="#000" stroke-width="2.0" />
<line x1="116.80" y1="111.00" x2="126.00" y2="111.00" stroke="#000" stroke-width="2.0" />
<line x1="815.80" y1="111.00" x2="825.00" y2="111.00" stroke="#000" stroke-width="2.0" />
<line x1="116.80" y1="76.00" x2="126.00" y2="76.00" stroke="#000" stroke-width="2.0" />
<line x1="815.80" y1="76.00" x2="825.00" y2="76.00" stroke="#000" stroke-width="2.0" />
<line x1="121.80" y1="199.00" x2="126.00" y2="199.00" stroke="#000" stroke-width="2.0" />
<line x1="820.80" y1="199.00" x2="825.00" y2="199.00" stroke="#000" stroke-width="2.0" />
<line x1="121.80" y1="164.00" x2="126.00" y2="164.00" stroke="#000" stroke-width="2.0" />
<line x1="820.80" y1="164.00" x2="825.00" y2="164.00" stroke="#000" stroke-width="2.0" />
<line x1="121.80" y1="129.00" x2="126.00" y2="129.00" stroke="#000" stroke-width="2.0" />
<line x1="820.80" y1="129.00" x2="825.00" y2="129.00" stroke="#000" stroke-width="2.0" />
<line x1="121.80" y1="94.00" x2="126.00" y2="94.00" stroke="#000" stroke-width="2.0" />
<line x1="820.80" y1="94.00" x2="825.00" y2="94.00" stroke="#000" stroke-width="2.0" />
<line x1="126.00" y1="76.00" x2="126.00" y2="85.90" stroke="#000" stroke-width="2.0" />
<line x1="126.00" y1="217.00" x2="126.00" y2="226.90" stroke="#000" stroke-width="2.0" />
<line x1="191.00" y1="76.00" x2="191.00" y2="85.90" stroke="#000" stroke-width="2.0" />
<line x1="191.00" y1="217.00" x2="191.00" y2="226.90" stroke="#000" stroke-width="2.0" />
<line x1="256.00" y1="76.00" x2="256.00" y2="85.90" stroke="#000" stroke-width="2.0" />
<line x1="256.00" y1="217.00" x2="256.00" y2="226.90" stroke="#000" stroke-width="2.0" />
<line x1="321.00" y1="76.00" x2="321.00" y2="85.90" stroke="#000" stroke-width="2.0" />
<line x1="321.00" y1="217.00" x2="321.00" y2="226.90" stroke="#000" stroke-width="2.0" />
<line x1="386.00" y1="76.00" x2="386.00" y2="85.90" stroke="#000" stroke-width="2.0" />
<line x1="386.00" y1="217.00" x2="386.00" y2="226.90" stroke="#000" stroke-width="2.0" />
<line x1="451.00" y1="76.00" x2="451.00" y2="85.90" stroke="#000" stroke-width="2.0" />
<line x1="451.00" y1="217.00" x2="451.00" y2="226.90" stroke="#000" stroke-width="2.0" />
<line x1="516.00" y1="76.00" x2="516.00" y2="85.90" stroke="#000" stroke-width="2.0" />
<line x1="516.00" y1="217.00" x2="516.00" y2="226.90" stroke="#000" stroke-width="2.0" />
<line x1="582.00" y1="76.00" x2="582.00" y2="85.90" stroke="#000" stroke-width="2.0" />
<line x1="582.00" y1="217.00" x2="582.00" y2="226.90" stroke="#000" stroke-width="2.0" />
<line x1="646.00" y1="76.00" x2="646.00" y2="85.90" stroke="#000" stroke-width="2.0" />
<line x1="646.00" y1="217.00" x2="646.00" y2="226.90" stroke="#000" stroke-width="2.0" />
<line x1="712.00" y1="76.00" x2="712.00" y2="85.90" stroke="#000" stroke-width="2.0" />
<line x1="712.00" y1="217.00" x2="712.00" y2="226.90" stroke="#000" stroke-width="2.0" />
<line x1="777.00" y1="76.00" x2="777.00" y2="85.90" stroke="#000" stroke-width="2.0" />
<line x1="777.00" y1="217.00" x2="777.00" y2="226.90" stroke="#000" stroke-width="2.0" />
<line x1="125.00" y1="273.00" x2="826.00" y2="273.00" stroke="#000" stroke-width="2.0" />
<line x1="125.00" y1="414.00" x2="826.00" y2="414.00" stroke="#000" stroke-width="2.0" />
<line x1="126.00" y1="273.00" x2="126.00" y2="414.00" stroke="#000" stroke-width="2.0" />
<line x1="825.00" y1="273.00" x2="825.00" y2="414.00" stroke="#000" stroke-width="2.0" />
<line x1="116.80" y1="414.00" x2="126.00" y2="414.00" stroke="#000" stroke-width="2.0" />
<line x1="815.80" y1="414.00" x2="825.00" y2="414.00" stroke="#000" stroke-width="2.0" />
<line x1="116.80" y1="379.00" x2="126.00" y2="379.00" stroke="#000" stroke-width="2.0" />
<line x1="815.80" y1="379.00" x2="825.00" y2="379.00" stroke="#000" stroke-width="2.0" />
<line x1="116.80" y1="344.00" x2="126.00" y2="344.00" stroke="#000" stroke-width="2.0" />
<line x1="815.80" y1="344.00" x2="825.00" y2="344.00" stroke="#000" stroke-width="2.0" />
<line x1="116.80" y1="308.00" x2="126.00" y2="308.00" stroke="#000" stroke-width="2.0" />
<line x1="815.80" y1="308.00" x2="825.00" y2="308.00" stroke="#000" stroke-width="2.0" />
<line x1="116.80" y1="273.00" x2="126.00" y2="273.00" stroke="#000" stroke-width="2.0" />
<line x1="815.80" y1="273.00" x2="825.00" y2="273.00" stroke="#000" stroke-width="2.0" />
<line x1="121.80" y1="396.00" x2="126.00" y2="396.00" stroke="#000" stroke-width="2.0" />
<line x1="820.80" y1="396.00" x2="825.00" y2="396.00" stroke="#000" stroke-width="2.0" />
<line x1="121.80" y1="361.00" x2="126.00" y2="361.00" stroke="#000" stroke-width="2.0" />
<line x1="820.80" y1="361.00" x2="825.00" y2="361.00" stroke="#000" stroke-width="2.0" />
<line x1="121.80" y1="326.00" x2="126.00" y2="326.00" stroke="#000" stroke-width="2.0" />
<line x1="820.80" y1="326.00" x2="825.00" y2="326.00" stroke="#000" stroke-width="2.0" />
<line x1="121.80" y1="291.00" x2="126.00" y2="291.00" stroke="#000" stroke-width="2.0" />
<line x1="820.80" y1="291.00" x2="825.00" y2="291.00" stroke="#000" stroke-width="2.0" />
<line x1="126.00" y1="273.00" x2="126.00" y2="282.90" stroke="#000" stroke-width="2.0" />
<line x1="126.00" y1="414.00" x2="126.00" y2="423.90" stroke="#000" stroke-width="2.0" />
<line x1="189.00" y1="273.00" x2="189.00" y2="282.90" stroke="#000" stroke-width="2.0" />
<line x1="189.00" y1="414.00" x2="189.00" y2="423.90" stroke="#000" stroke-width="2.0" />
<line x1="254.00" y1="273.00" x2="254.00" y2="282.90" stroke="#000" stroke-width="2.0" />
<line x1="254.00" y1="414.00" x2="254.00" y2="423.90" stroke="#000" stroke-width="2.0" />
<line x1="316.00" y1="273.00" x2="316.00" y2="282.90" stroke="#000" stroke-width="2.0" />
<line x1="316.00" y1="414.00" x2="316.00" y2="423.90" stroke="#000" stroke-width="2.0" />
<line x1="381.00" y1="273.00" x2="381.00" y2="282.90" stroke="#000" stroke-width="2.0" />
<line x1="381.00" y1="414.00" x2="381.00" y2="423.90" stroke="#000" stroke-width="2.0" />
<line x1="446.00" y1="273.00" x2="446.00" y2="282.90" stroke="#000" stroke-width="2.0" />
<line x1="446.00" y1="414.00" x2="446.00" y2="423.90" stroke="#000" stroke-width="2.0" />
<line x1="504.00" y1="273.00" x2="504.00" y2="282.90" stroke="#000" stroke-width="2.0" />
<line x1="504.00" y1="414.00" x2="504.00" y2="423.90" stroke="#000" stroke-width="2.0" />
<line x1="569.00" y1="273.00" x2="569.00" y2="282.90" stroke="#000" stroke-width="2.0" />
<line x1="569.00" y1="414.00" x2="569.00" y2="423.90" stroke="#000" stroke-width="2.0" />
<line x1="631.00" y1="273.00" x2="631.00" y2="282.90" stroke="#000" stroke-width="2.0" />
<line x1="631.00" y1="414.00" x2="631.00" y2="423.90" stroke="#000" stroke-width="2.0" />
<line x1="696.00" y1="273.00" x2="696.00" y2="282.90" stroke="#000" stroke-width="2.0" />
<line x1="696.00" y1="414.00" x2="696.00" y2="423.90" stroke="#000" stroke-width="2.0" />
<line x1="759.00" y1="273.00" x2="759.00" y2="282.90" stroke="#000" stroke-width="2.0" />
<line x1="759.00" y1="414.00" x2="759.00" y2="423.90" stroke="#000" stroke-width="2.0" />
<line x1="823.00" y1="273.00" x2="823.00" y2="282.90" stroke="#000" stroke-width="2.0" />
<line x1="823.00" y1="414.00" x2="823.00" y2="423.90" stroke="#000" stroke-width="2.0" />
<line x1="125.00" y1="467.00" x2="826.00" y2="467.00" stroke="#000" stroke-width="2.0" />
<line x1="125.00" y1="608.00" x2="826.00" y2="608.00" stroke="#000" stroke-width="2.0" />
<line x1="126.00" y1="467.00" x2="126.00" y2="608.00" stroke="#000" stroke-width="2.0" />
<line x1="825.00" y1="467.00" x2="825.00" y2="608.00" stroke="#000" stroke-width="2.0" />
<line x1="126.00" y1="608.00" x2="136.20" y2="608.00" stroke="#000" stroke-width="2.0" />
<line x1="815.80" y1="608.00" x2="825.00" y2="608.00" stroke="#000" stroke-width="2.0" />
<line x1="126.00" y1="573.00" x2="136.20" y2="573.00" stroke="#000" stroke-width="2.0" />
<line x1="815.80" y1="573.00" x2="825.00" y2="573.00" stroke="#000" stroke-width="2.0" />
<line x1="126.00" y1="538.00" x2="136.20" y2="538.00" stroke="#000" stroke-width="2.0" />
<line x1="815.80" y1="538.00" x2="825.00" y2="538.00" stroke="#000" stroke-width="2.0" />
<line x1="126.00" y1="502.00" x2="136.20" y2="502.00" stroke="#000" stroke-width="2.0" />
<line x1="815.80" y1="502.00" x2="825.00" y2="502.00" stroke="#000" stroke-width="2.0" />
<line x1="126.00" y1="467.00" x2="136.20" y2="467.00" stroke="#000" stroke-width="2.0" />
<line x1="815.80" y1="467.00" x2="825.00" y2="467.00" stroke="#000" stroke-width="2.0" />
<line x1="126.00" y1="590.00" x2="131.20" y2="590.00" stroke="#000" stroke-width="2.0" />
<line x1="820.80" y1="590.00" x2="825.00" y2="590.00" stroke="#000" stroke-width="2.0" />
<line x1="126.00" y1="555.00" x2="131.20" y2="555.00" stroke="#000" stroke-width="2.0" />
<line x1="820.80" y1="555.00" x2="825.00" y2="555.00" stroke="#000" stroke-width="2.0" />
<line x1="126.00" y1="520.00" x2="131.20" y2="520.00" stroke="#000" stroke-width="2.0" />
<line x1="820.80" y1="520.00" x2="825.00" y2="520.00" stroke="#000" stroke-width="2.0" />
<line x1="126.00" y1="485.00" x2="131.20" y2="485.00" stroke="#000" stroke-width="2.0" />
<line x1="820.80" y1="485.00" x2="825.00" y2="485.00" stroke="#000" stroke-width="2.0" />
<line x1="126.00" y1="467.00" x2="126.00" y2="476.90" stroke="#000" stroke-width="2.0" />
<line x1="126.00" y1="608.00" x2="126.00" y2="617.90" stroke="#000" stroke-width="2.0" />
<line x1="185.00" y1="467.00" x2="185.00" y2="476.90" stroke="#000" stroke-width="2.0" />
<line x1="185.00" y1="608.00" x2="185.00" y2="617.90" stroke="#000" stroke-width="2.0" />
<line x1="243.00" y1="467.00" x2="243.00" y2="476.90" stroke="#000" stroke-width="2.0" />
<line x1="243.00" y1="608.00" x2="243.00" y2="617.90" stroke="#000" stroke-width="2.0" />
<line x1="300.00" y1="467.00" x2="300.00" y2="476.90" stroke="#000" stroke-width="2.0" />
<line x1="300.00" y1="608.00" x2="300.00" y2="617.90" stroke="#000" stroke-width="2.0" />
<line x1="359.00" y1="467.00" x2="359.00" y2="476.90" stroke="#000" stroke-width="2.0" />
<line x1="359.00" y1="608.00" x2="359.00" y2="617.90" stroke="#000" stroke-width="2.0" />
<line x1="415.00" y1="467.00" x2="415.00" y2="476.90" stroke="#000" stroke-width="2.0" />
<line x1="415.00" y1="608.00" x2="415.00" y2="617.90" stroke="#000" stroke-width="2.0" />
<line x1="474.00" y1="467.00" x2="474.00" y2="476.90" stroke="#000" stroke-width="2.0" />
<line x1="474.00" y1="608.00" x2="474.00" y2="617.90" stroke="#000" stroke-width="2.0" />
<line x1="533.00" y1="467.00" x2="533.00" y2="476.90" stroke="#000" stroke-width="2.0" />
<line x1="533.00" y1="608.00" x2="533.00" y2="617.90" stroke="#000" stroke-width="2.0" />
<line x1="587.00" y1="467.00" x2="587.00" y2="476.90" stroke="#000" stroke-width="2.0" />
<line x1="587.00" y1="608.00" x2="587.00" y2="617.90" stroke="#000" stroke-width="2.0" />
<line x1="646.00" y1="467.00" x2="646.00" y2="476.90" stroke="#000" stroke-width="2.0" />
<line x1="646.00" y1="608.00" x2="646.00" y2="617.90" stroke="#000" stroke-width="2.0" />
<line x1="703.00" y1="467.00" x2="703.00" y2="476.90" stroke="#000" stroke-width="2.0" />
<line x1="703.00" y1="608.00" x2="703.00" y2="617.90" stroke="#000" stroke-width="2.0" />
<line x1="761.00" y1="467.00" x2="761.00" y2="476.90" stroke="#000" stroke-width="2.0" />
<line x1="761.00" y1="608.00" x2="761.00" y2="617.90" stroke="#000" stroke-width="2.0" />
<line x1="818.00" y1="467.00" x2="818.00" y2="476.90" stroke="#000" stroke-width="2.0" />
<line x1="818.00" y1="608.00" x2="818.00" y2="617.90" stroke="#000" stroke-width="2.0" />
</g>
<g id="ticklabels">
<text x="110.10" y="225.20" font-family="'Liberation Serif', 'Times New Roman', serif" font-size="26.6" text-anchor="end" letter-spacing="0.5">0</text>
<text x="835.30" y="225.20" font-family="'Liberation Serif', 'Times New Roman', serif" font-size="26.6" text-anchor="start" letter-spacing="0.5">0</text>
<text x="110.10" y="190.20" font-family="'Liberation Serif', 'Times New Roman', serif" font-size="26.6" text-anchor="end" letter-spacing="0.5">1</text>
<text x="835.30" y="190.20" font-family="'Liberation Serif', 'Times New Roman', serif" font-size="26.6" text-anchor="start" letter-spacing="0.5">1</text>
<text x="110.10" y="155.20" font-family="'Liberation Serif', 'Times New Roman', serif" font-size="26.6" text-anchor="end" letter-spacing="0.5">2</text>
<text x="835.30" y="155.20" font-family="'Liberation Serif', 'Times New Roman', serif" font-size="26.6" text-anchor="start" letter-spacing="0.5">2</text>
<text x="110.10" y="119.20" font-family="'Liberation Serif', 'Times New Roman', serif" font-size="26.6" text-anchor="end" letter-spacing="0.5">3</text>
<text x="835.30" y="119.20" font-family="'Liberation Serif', 'Times New Roman', serif" font-size="26.6" text-anchor="start" letter-spacing="0.5">3</text>
<text x="110.10" y="84.20" font-family="'Liberation Serif', 'Times New Roman', serif" font-size="26.6" text-anchor="end" letter-spacing="0.5">4</text>
<text x="835.30" y="84.20" font-family="'Liberation Serif', 'Times New Roman', serif" font-size="26.6" text-anchor="start" letter-spacing="0.5">4</text>
<text x="110.10" y="422.20" font-family="'Liberation Serif', 'Times New Roman', serif" font-size="26.6" text-anchor="end" letter-spacing="0.5">0</text>
<text x="835.30" y="422.20" font-family="'Liberation Serif', 'Times New Roman', serif" font-size="26.6" text-anchor="start" letter-spacing="0.5">0</text>
<text x="110.10" y="387.20" font-family="'Liberation Serif', 'Times New Roman', serif" font-size="26.6" text-anchor="end" letter-spacing="0.5">10</text>
<text x="835.30" y="387.20" font-family="'Liberation Serif', 'Times New Roman', serif" font-size="26.6" text-anchor="start" letter-spacing="0.5">10</text>
<text x="110.10" y="352.20" font-family="'Liberation Serif', 'Times New Roman', serif" font-size="26.6" text-anchor="end" letter-spacing="0.5">20</text>
<text x="835.30" y="352.20" font-family="'Liberation Serif', 'Times New Roman', serif" font-size="26.6" text-anchor="start" letter-spacing="0.5">20</text>
<text x="110.10" y="316.20" font-family="'Liberation Serif', 'Times New Roman', serif" font-size="26.6" text-anchor="end" letter-spacing="0.5">30</text>
<text x="835.30" y="316.20" font-family="'Liberation Serif', 'Times New Roman', serif" font-size="26.6" text-anchor="start" letter-spacing="0.5">30</text>
<text x="110.10" y="281.20" font-family="'Liberation Serif', 'Times New Roman', serif" font-size="26.6" text-anchor="end" letter-spacing="0.5">40</text>
<text x="835.30" y="281.20" font-family="'Liberation Serif', 'Times New Roman', serif" font-size="26.6" text-anchor="start" letter-spacing="0.5">40</text>
<text x="115.40" y="616.20" font-family="'Liberation Serif', 'Times New Roman', serif" font-size="26.6" text-anchor="end" letter-spacing="0.5">0</text>
<text x="835.30" y="616.20" font-family="'Liberation Serif', 'Times New Roman', serif" font-size="26.6" text-anchor="start" letter-spacing="0.5">0</text>
<text x="115.40" y="581.20" font-family="'Liberation Serif', 'Times New Roman', serif" font-size="26.6" text-anchor="end" letter-spacing="0.5">10</text>
<text x="835.30" y="581.20" font-family="'Liberation Serif', 'Times New Roman', serif" font-size="26.6" text-anchor="start" letter-spacing="0.5">10</text>
<text x="115.40" y="546.20" font-family="'Liberation Serif', 'Times New Roman', serif" font-size="26.6" text-anchor="end" letter-spacing="0.5">20</text>
<text x="835.30" y="546.20" font-family="'Liberation Serif', 'Times New Roman', serif" font-size="26.6" text-anchor="start" letter-spacing="0.5">20</text>
<text x="115.40" y="510.20" font-family="'Liberation Serif', 'Times New Roman', serif" font-size="26.6" text-anchor="end" letter-spacing="0.5">30</text>
<text x="835.30" y="510.20" font-family="'Liberation Serif', 'Times New Roman', serif" font-size="26.6" text-anchor="start" letter-spacing="0.5">30</text>
<text x="115.40" y="475.20" font-family="'Liberation Serif', 'Times New Roman', serif" font-size="26.6" text-anchor="end" letter-spacing="0.5">40</text>
<text x="835.30" y="475.20" font-family="'Liberation Serif', 'Times New Roman', serif" font-size="26.6" text-anchor="start" letter-spacing="0.5">40</text>
<text transform="translate(141.05,241.34) rotate(-45)" x="0.2" y="0" font-family="'Liberation Serif', 'Times New Roman', serif" font-size="20.6" letter-spacing="0.2" text-anchor="end">Aug</text>
<text transform="translate(206.05,241.34) rotate(-45)" x="0.2" y="0" font-family="'Liberation Serif', 'Times New Roman', serif" font-size="20.6" letter-spacing="0.2" text-anchor="end">Sep</text>
<text transform="translate(271.05,241.34) rotate(-45)" x="0.2" y="0" font-family="'Liberation Serif', 'Times New Roman', serif" font-size="20.6" letter-spacing="0.2" text-anchor="end">Oct</text>
<text transform="translate(336.05,241.34) rotate(-45)" x="0.2" y="0" font-family="'Liberation Serif', 'Times New Roman', serif" font-size="20.6" letter-spacing="0.2" text-anchor="end">Nov</text>
<text transform="translate(401.05,241.34) rotate(-45)" x="0.2" y="0" font-family="'Liberation Serif', 'Times New Roman', serif" font-size="20.6" letter-spacing="0.2" text-anchor="end">Dec</text>
<text transform="translate(466.05,241.34) rotate(-45)" x="0.2" y="0" font-family="'Liberation Serif', 'Times New Roman', serif" font-size="20.6" letter-spacing="0.2" text-anchor="end">Jan</text>
<text transform="translate(531.05,241.34) rotate(-45)" x="0.2" y="0" font-family="'Liberation Serif', 'Times New Roman', serif" font-size="20.6" letter-spacing="0.2" text-anchor="end">Feb</text>
<text transform="translate(597.05,241.34) rotate(-45)" x="0.2" y="0" font-family="'Liberation Serif', 'Times New Roman', serif" font-size="20.6" letter-spacing="0.2" text-anchor="end">Mar</text>
<text transform="translate(661.05,241.34) rotate(-45)" x="0.2" y="0" font-family="'Liberation Serif', 'Times New Roman', serif" font-size="20.6" letter-spacing="0.2" text-anchor="end">Apr</text>
<text transform="translate(727.05,241.34) rotate(-45)" x="0.2" y="0" font-family="'Liberation Serif', 'Times New Roman', serif" font-size="20.6" letter-spacing="0.2" text-anchor="end">May</text>
<text transform="translate(792.05,241.34) rotate(-45)" x="0.2" y="0" font-family="'Liberation Serif', 'Times New Roman', serif" font-size="20.6" letter-spacing="0.2" text-anchor="end">Jun</text>
<text transform="translate(141.05,435.50) rotate(-45)" x="0.2" y="0" font-family="'Liberation Serif', 'Times New Roman', serif" font-size="20.6" letter-spacing="0.2" text-anchor="end">Sep</text>
<text transform="translate(204.05,435.50) rotate(-45)" x="0.2" y="0" font-family="'Liberation Serif', 'Times New Roman', serif" font-size="20.6" letter-spacing="0.2" text-anchor="end">Oct</text>
<text transform="translate(269.05,435.50) rotate(-45)" x="0.2" y="0" font-family="'Liberation Serif', 'Times New Roman', serif" font-size="20.6" letter-spacing="0.2" text-anchor="end">Nov</text>
<text transform="translate(331.05,435.50) rotate(-45)" x="0.2" y="0" font-family="'Liberation Serif', 'Times New Roman', serif" font-size="20.6" letter-spacing="0.2" text-anchor="end">Dec</text>
<text transform="translate(396.05,435.50) rotate(-45)" x="0.2" y="0" font-family="'Liberation Serif', 'Times New Roman', serif" font-size="20.6" letter-spacing="0.2" text-anchor="end">Jan</text>
<text transform="translate(461.05,435.50) rotate(-45)" x="0.2" y="0" font-family="'Liberation Serif', 'Times New Roman', serif" font-size="20.6" letter-spacing="0.2" text-anchor="end">Feb</text>
<text transform="translate(519.05,435.50) rotate(-45)" x="0.2" y="0" font-family="'Liberation Serif', 'Times New Roman', serif" font-size="20.6" letter-spacing="0.2" text-anchor="end">Mar</text>
<text transform="translate(584.05,435.50) rotate(-45)" x="0.2" y="0" font-family="'Liberation Serif', 'Times New Roman', serif" font-size="20.6" letter-spacing="0.2" text-anchor="end">Apr</text>
<text transform="translate(646.05,435.50) rotate(-45)" x="0.2" y="0" font-family="'Liberation Serif', 'Times New Roman', serif" font-size="20.6" letter-spacing="0.2" text-anchor="end">May</text>
<text transform="translate(711.05,435.50) rotate(-45)" x="0.2" y="0" font-family="'Liberation Serif', 'Times New Roman', serif" font-size="20.6" letter-spacing="0.2" text-anchor="end">Jun</text>
<text transform="translate(774.05,435.50) rotate(-45)" x="0.2" y="0" font-family="'Liberation Serif', 'Times New Roman', serif" font-size="20.6" letter-spacing="0.2" text-anchor="end">Jul</text>
<text transform="translate(838.05,435.50) rotate(-45)" x="0.2" y="0" font-family="'Liberation Serif', 'Times New Roman', serif" font-size="20.6" letter-spacing="0.2" text-anchor="end">Aug</text>
<text transform="translate(141.05,632.34) rotate(-45)" x="0.2" y="0" font-family="'Liberation Serif', 'Times New Roman', serif" font-size="20.6" letter-spacing="0.2" text-anchor="end">Jul</text>
<text transform="translate(200.05,632.34) rotate(-45)" x="0.2" y="0" font-family="'Liberation Serif', 'Times New Roman', serif" font-size="20.6" letter-spacing="0.2" text-anchor="end">Aug</text>
<text transform="translate(258.05,632.34) rotate(-45)" x="0.2" y="0" font-family="'Liberation Serif', 'Times New Roman', serif" font-size="20.6" letter-spacing="0.2" text-anchor="end">Sep</text>
<text transform="translate(315.05,632.34) rotate(-45)" x="0.2" y="0" font-family="'Liberation Serif', 'Times New Roman', serif" font-size="20.6" letter-spacing="0.2" text-anchor="end">Oct</text>
<text transform="translate(374.05,632.34) rotate(-45)" x="0.2" y="0" font-family="'Liberation Serif', 'Times New Roman', serif" font-size="20.6" letter-spacing="0.2" text-anchor="end">Nov</text>
<text transform="translate(430.05,632.34) rotate(-45)" x="0.2" y="0" font-family="'Liberation Serif', 'Times New Roman', serif" font-size="20.6" letter-spacing="0.2" text-anchor="end">Dec</text>
<text transform="translate(489.05,632.34) rotate(-45)" x="0.2" y="0" font-family="'Liberation Serif', 'Times New Roman', serif" font-size="20.6" letter-spacing="0.2" text-anchor="end">Jan</text>
<text transform="translate(548.05,632.34) rotate(-45)" x="0.2" y="0" font-family="'Liberation Serif', 'Times New Roman', serif" font-size="20.6" letter-spacing="0.2" text-anchor="end">Feb</text>
<text transform="translate(602.05,632.34) rotate(-45)" x="0.2" y="0" font-family="'Liberation Serif', 'Times New Roman', serif" font-size="20.6" letter-spacing="0.2" text-anchor="end">Mar</text>
<text transform="translate(661.05,632.34) rotate(-45)" x="0.2" y="0" font-family="'Liberation Serif', 'Times New Roman', serif" font-size="20.6" letter-spacing="0.2" text-anchor="end">Apr</text>
<text transform="translate(718.05,632.34) rotate(-45)" x="0.2" y="0" font-family="'Liberation Serif', 'Times New Roman', serif" font-size="20.6" letter-spacing="0.2" text-anchor="end">May</text>
<text transform="translate(776.05,632.34) rotate(-45)" x="0.2" y="0" font-family="'Liberation Serif', 'Times New Roman', serif" font-size="20.6" letter-spacing="0.2" text-anchor="end">Jun</text>
<text transform="translate(833.05,632.34) rotate(-45)" x="0.2" y="0" font-family="'Liberation Serif', 'Times New Roman', serif" font-size="20.6" letter-spacing="0.2" text-anchor="end">Jul</text>
</g>
<g id="labels">
<text x="135.00" y="101.70" font-family="'Liberation Serif', 'Times New Roman', serif" font-size="27" text-anchor="start" >(c)</text>
<text x="205.40" y="110.00" font-family="'Liberation Serif', 'Times New Roman', serif" font-size="27" text-anchor="start" letter-spacing="0.27">Beiluhe</text>
<text x="195.30" y="137.20" font-family="'Liberation Sans', Arial, sans-serif" font-size="21.4" text-anchor="start" stroke="#000" stroke-width="0.3">(2018-2019)</text>
<text x="139.00" y="298.60" font-family="'Liberation Serif', 'Times New Roman', serif" font-size="27" text-anchor="start" >(b)</text>
<text x="206.00" y="307.50" font-family="'Liberation Serif', 'Times New Roman', serif" font-size="27" text-anchor="start" letter-spacing="0.15">Qinghai Lake</text>
<text x="204.90" y="340.60" font-family="'Liberation Sans', Arial, sans-serif" font-size="21.4" text-anchor="start" stroke="#000" stroke-width="0.3">(2018-2019)</text>
<text x="137.00" y="498.60" font-family="'Liberation Serif', 'Times New Roman', serif" font-size="27" text-anchor="start" >(a)</text>
<text x="205.50" y="500.80" font-family="'Liberation Serif', 'Times New Roman', serif" font-size="27" text-anchor="start" letter-spacing="0.15">Ngari</text>
<text x="190.30" y="535.80" font-family="'Liberation Sans', Arial, sans-serif" font-size="21.4" text-anchor="start" stroke="#000" stroke-width="0.3">(2019-2020)</text>
<text y="685.2" font-family="'Liberation Serif', 'Times New Roman', serif" font-size="28" xml:space="preserve"><tspan x="392.3">Sampling </tspan><tspan x="511.0" letter-spacing="0.4">Date</tspan></text>
<text transform="translate(55.4,458) rotate(-90)" font-family="'Liberation Serif', 'Times New Roman', serif" font-size="27" xml:space="preserve"><tspan letter-spacing="0.15">Concentrati</tspan><tspan letter-spacing="-0.5">ons</tspan><tspan dx="2.3" letter-spacing="0.2"> (ng</tspan><tspan dx="-1.6"> m</tspan><tspan dy="-11" dx="-0.6" font-size="18">-3</tspan><tspan dy="11" dx="1.4">)</tspan></text>
</g>
<g id="legend">
<line x1="381.00" y1="94.50" x2="442.00" y2="94.50" stroke="#000" stroke-width="1.0" shape-rendering="crispEdges"/>
<rect x="408.00" y="92.00" width="6.0" height="6.0" fill="#000"/>
<text x="448.00" y="104.00" font-family="'Liberation Serif', 'Times New Roman', serif" font-size="27" text-anchor="start" letter-spacing="0.27">Arabitol</text>
<line x1="547.00" y1="94.50" x2="608.00" y2="94.50" stroke="#FF0000" stroke-width="1.0" shape-rendering="crispEdges"/>
<ellipse cx="577.10" cy="94.90" rx="3.2" ry="3.2" fill="#FF0000"/>
<text x="613.60" y="104.00" font-family="'Liberation Serif', 'Times New Roman', serif" font-size="27" text-anchor="start" letter-spacing="0.27">Mannitol</text>
<line x1="381.00" y1="128.50" x2="442.00" y2="128.50" stroke="#00FF00" stroke-width="1.0" shape-rendering="crispEdges"/>
<polygon points="411.10,123.95 415.30,130.85 406.90,130.85" fill="#00FF00"/>
<text x="447.80" y="137.60" font-family="'Liberation Serif', 'Times New Roman', serif" font-size="27" text-anchor="start" letter-spacing="0.27">Glucose</text>
<line x1="545.00" y1="128.50" x2="606.00" y2="128.50" stroke="#0000FF" stroke-width="1.0" shape-rendering="crispEdges"/>
<polygon points="575.50,132.95 579.40,126.05 571.60,126.05" fill="#0000FF"/>
<text x="613.60" y="137.60" font-family="'Liberation Serif', 'Times New Roman', serif" font-size="27" text-anchor="start" letter-spacing="0.1">Trehalose</text>
</g>
</svg>
</body>
</html>
